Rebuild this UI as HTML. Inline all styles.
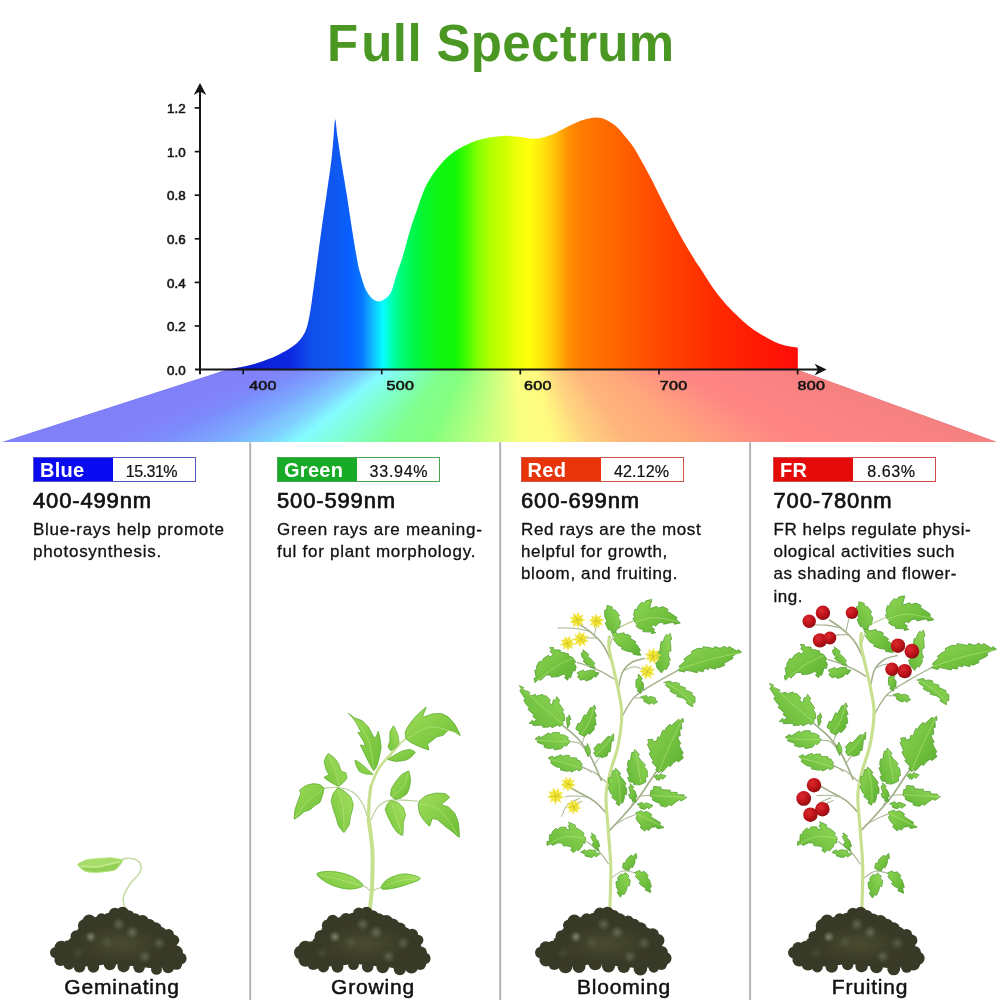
<!DOCTYPE html>
<html lang="en">
<head>
<meta charset="utf-8">
<title>Full Spectrum</title>
<style>
html,body{margin:0;padding:0;background:#fff;}
body{width:1000px;height:1000px;position:relative;overflow:hidden;font-family:"Liberation Sans",sans-serif;color:#111;}
#art{position:absolute;left:0;top:0;width:1000px;height:1000px;display:block;}
h1,.panel,.stage,#art{will-change:transform;}
h1{position:absolute;left:326.6px;top:14.5px;width:400px;margin:0;text-align:left;font-size:51px;line-height:58px;font-weight:bold;color:#4b9724;letter-spacing:.36px;white-space:nowrap;}
h1 span{letter-spacing:3.2px;}
.axl text{font-family:"Liberation Sans",sans-serif;font-size:13.4px;font-weight:normal;fill:#151515;stroke:#151515;stroke-width:.6px;letter-spacing:.25px;}
.panel{position:absolute;top:442px;width:250px;height:558px;}
.badge{position:absolute;top:15px;height:23px;width:161px;border:1px solid;box-sizing:content-box;}
.badge b{position:absolute;left:0;top:0;height:23px;width:79px;color:#fff;font-size:20px;line-height:25px;font-weight:bold;padding-left:6px;box-sizing:border-box;letter-spacing:.3px;}
.badge i{position:absolute;left:79px;top:0;width:82px;height:23px;font-style:normal;text-align:center;font-size:16.1px;line-height:26px;color:#111;letter-spacing:-.1px;-webkit-text-stroke:.2px #111;}
.rng{position:absolute;top:46px;margin:0;font-size:22px;line-height:26px;font-weight:normal;letter-spacing:.85px;-webkit-text-stroke:.7px #111;white-space:nowrap;}
.desc{position:absolute;top:76.6px;margin:0;font-size:17px;line-height:22.4px;letter-spacing:.72px;white-space:nowrap;-webkit-text-stroke:.3px #111;}
.stage{position:absolute;top:974px;margin:0;font-size:21px;line-height:26px;letter-spacing:.8px;-webkit-text-stroke:.5px #111;white-space:nowrap;transform:translateX(-50%);}
</style>
</head>
<body>
<svg id="art" viewBox="0 0 1000 1000" width="1000" height="1000">
<defs>
<linearGradient id="spec" gradientUnits="userSpaceOnUse" x1="225" y1="0" x2="797.8" y2="0"><stop offset="0.0000" stop-color="#0a18d0"/><stop offset="0.1135" stop-color="#0c28e0"/><stop offset="0.1519" stop-color="#1050ec"/><stop offset="0.1920" stop-color="#1058f0"/><stop offset="0.2182" stop-color="#0860ff"/><stop offset="0.2392" stop-color="#0878ff"/><stop offset="0.2566" stop-color="#10b8ff"/><stop offset="0.2758" stop-color="#08fcff"/><stop offset="0.2916" stop-color="#00ffb0"/><stop offset="0.3090" stop-color="#00fc74"/><stop offset="0.3265" stop-color="#00f850"/><stop offset="0.3474" stop-color="#08f62c"/><stop offset="0.3753" stop-color="#10f610"/><stop offset="0.4015" stop-color="#10f808"/><stop offset="0.4207" stop-color="#40fc00"/><stop offset="0.4417" stop-color="#84ff00"/><stop offset="0.4644" stop-color="#b4ff00"/><stop offset="0.4871" stop-color="#ccff00"/><stop offset="0.5098" stop-color="#f0ff08"/><stop offset="0.5325" stop-color="#ffff0c"/><stop offset="0.5552" stop-color="#ffe40c"/><stop offset="0.5779" stop-color="#ffbe08"/><stop offset="0.6006" stop-color="#ff8e04"/><stop offset="0.6233" stop-color="#ff7a00"/><stop offset="0.6686" stop-color="#ff6a00"/><stop offset="0.7367" stop-color="#ff5000"/><stop offset="0.8467" stop-color="#ff2c00"/><stop offset="1.0000" stop-color="#ff0c08"/></linearGradient>
<linearGradient id="fan" x1="0" y1="0" x2="1" y2="0"><stop offset="0.000" stop-color="#8080f8"/><stop offset="0.090" stop-color="#8282fa"/><stop offset="0.140" stop-color="#7c8cfc"/><stop offset="0.200" stop-color="#7ca8fe"/><stop offset="0.250" stop-color="#80d0ff"/><stop offset="0.283" stop-color="#84fcff"/><stop offset="0.325" stop-color="#80ffd0"/><stop offset="0.380" stop-color="#80ff8c"/><stop offset="0.415" stop-color="#84ff80"/><stop offset="0.465" stop-color="#c0ff80"/><stop offset="0.506" stop-color="#f8ff80"/><stop offset="0.540" stop-color="#fffa80"/><stop offset="0.572" stop-color="#ffd480"/><stop offset="0.615" stop-color="#ffb47c"/><stop offset="0.673" stop-color="#ffa87a"/><stop offset="0.720" stop-color="#ff9880"/><stop offset="0.780" stop-color="#ff8684"/><stop offset="0.900" stop-color="#fb8282"/><stop offset="1.000" stop-color="#f48080"/></linearGradient>

<radialGradient id="sh"><stop offset="0" stop-color="#9a9e88" stop-opacity=".8"/><stop offset=".5" stop-color="#80846a" stop-opacity=".5"/><stop offset="1" stop-color="#6a6e54" stop-opacity="0"/></radialGradient>
<radialGradient id="so"><stop offset="0" stop-color="#4c4e30" stop-opacity=".9"/><stop offset="1" stop-color="#45472c" stop-opacity="0"/></radialGradient>
<radialGradient id="tom" cx=".38" cy=".34" r=".75"><stop offset="0" stop-color="#da2a30"/><stop offset=".5" stop-color="#c0141a"/><stop offset="1" stop-color="#860a0e"/></radialGradient>
<linearGradient id="lg1" x1="0" y1="0" x2="1" y2="1"><stop offset="0" stop-color="#a0dc5a"/><stop offset="1" stop-color="#6cbf34"/></linearGradient>
<linearGradient id="lg2" x1="1" y1="0" x2="0" y2="1"><stop offset="0" stop-color="#a8e062"/><stop offset="1" stop-color="#74c43a"/></linearGradient>
<linearGradient id="lg3" x1="0" y1="0" x2="1" y2="1"><stop offset="0" stop-color="#8ed652"/><stop offset="1" stop-color="#5cb030"/></linearGradient>
<linearGradient id="lg4" x1="1" y1="0" x2="0" y2="1"><stop offset="0" stop-color="#94d958"/><stop offset="1" stop-color="#62b636"/></linearGradient>
<style>
.soil path,.soil circle{fill:#383a27}
.lf{fill:url(#lg1);stroke:#5fae30;stroke-width:.9;stroke-linejoin:round}
.lf2{fill:url(#lg2);stroke:#66b434;stroke-width:.9;stroke-linejoin:round}
.lf3{fill:url(#lg3);stroke:#4e9a2c;stroke-width:.8;stroke-linejoin:round}
.lf4{fill:url(#lg4);stroke:#54a030;stroke-width:.8;stroke-linejoin:round}
.vn{fill:none;stroke:#c2ea8c;stroke-linecap:round;opacity:.85}
.st{fill:none;stroke:#c6e08e;stroke-linecap:round;stroke-linejoin:round}
.pt{fill:none;stroke:#b9cf96;stroke-linecap:round;stroke-linejoin:round}
.pt2{fill:none;stroke:#a2b08a;stroke-linecap:round;stroke-linejoin:round}
.fl{fill:#f3e834;stroke:#eedd2a;stroke-width:.6;stroke-linejoin:round}
</style>
<g id="p3"><path class="pt2" stroke-width="1.4" d="M613.7 678.8C611.8 677.7 606.5 674.2 602.4 672.1C598.3 670 593.4 667.9 589.2 666.3C585 664.7 579.2 663.1 577.2 662.5"/><path class="pt2" stroke-width="1.3" d="M622.3 716C624.4 712.8 629.1 702.4 634.8 696.8C640.5 691.2 649.2 686.8 656.4 682.4C663.6 678 674.4 672.4 678 670.4"/><path class="pt2" stroke-width="1.7" d="M601.2 780.1C599.4 776.1 594.2 762.9 590.4 756.1C586.6 749.3 582.9 744.3 578.4 739.3C573.9 734.2 565.8 728.1 563.3 725.8"/><path class="pt2" stroke-width="1" d="M589.2 755.6C587.6 753.6 582.8 745.9 579.6 743.6C576.4 741.3 571.6 742 570 741.7"/><path class="pt2" stroke-width="1" d="M582 743.6C582.6 742 584.4 736.4 585.6 734C586.8 731.6 588.6 730 589.2 729.2"/><path class="pt2" stroke-width="1" d="M594 765.2C594.9 764 597.6 760 599.3 758C601 756 603.3 754 604.1 753.2"/><path class="pt2" stroke-width="1" d="M591.6 772.4C590.4 771.6 586.4 768.7 584.4 767.6C582.4 766.5 580.4 766 579.6 765.7"/><path class="pt2" stroke-width="1.5" d="M618.5 687.2C619.2 684.6 620.5 675.8 622.8 671.6C625.1 667.4 628.8 664.2 632.4 662C636 659.8 642.4 659 644.4 658.4"/><path class="pt2" stroke-width="1" d="M624 670.4C625.8 669.8 631.4 666.8 634.8 666.8C638.2 666.8 642.8 669.8 644.4 670.4"/><path class="pt" stroke-width="1.2" d="M608.9 650C610 646.8 612.1 635.4 615.6 630.8C619.1 626.2 626.8 624.1 630 622.4C633.2 620.7 634 621 634.8 620.7"/><path class="pt2" stroke-width="1" d="M644.4 690.8C643.8 690 641.6 687.4 640.8 686C640 684.6 639.8 683 639.6 682.4"/><path class="pt2" stroke-width="1" d="M634.8 698C635.9 698 639.9 697.8 641.5 698C643.1 698.2 643.9 699 644.4 699.2"/><path class="pt2" stroke-width="1" d="M663.6 682.4C664.4 682.6 666.8 683 668.4 683.6C670 684.2 672.4 685.6 673.2 686"/><path class="pt2" stroke-width="1.1" d="M656.4 780.1C657 779.2 658.8 776.7 660 774.8C661.2 772.9 663 769.8 663.6 768.8"/><path class="pt2" stroke-width="1.1" d="M606 782.1C604.1 780.5 598.5 775 594.5 772.5C590.5 770 584.1 768.1 582 767.2"/><path class="pt2" stroke-width="1.7" d="M609.8 830.1C612.1 827.7 618.3 821.3 623.3 815.7C628.2 810.1 634.5 803.3 639.6 796.5C644.7 789.7 650.6 779.8 654 774.9C657.4 770 659 768.5 660 767.2"/><path class="pt2" stroke-width="1" d="M613.7 825.3C615.6 824.2 621.6 820.6 625.2 818.8C628.8 817 633.6 815.4 635.3 814.7"/><path class="pt2" stroke-width="1" d="M639.6 796C641 795.9 646 795.6 648 795.5C650 795.4 651 795.5 651.6 795.5"/><path class="pt2" stroke-width="1" d="M631.2 805.6C631.8 804.4 634.4 800.4 634.8 798.4C635.2 796.4 633.8 794.4 633.6 793.6"/><path class="pt2" stroke-width="1.1" d="M608.4 863.7C606.9 861.7 602.9 855.4 599.3 851.7C595.7 848 588.9 843.3 586.8 841.6"/><path class="pt2" stroke-width="1" d="M611.3 878.1C613.2 876.9 618.9 871.8 622.8 870.9C626.7 870 632.8 872.5 634.8 872.8"/><path class="pt2" stroke-width="1" d="M625.2 870.9C625.8 870 627.8 867.3 628.8 865.6C629.8 863.9 630.8 861.6 631.2 860.8"/><path class="st" stroke-width="3.1" d="M609.8 910C610 903 611 881 610.8 868C610.6 855 609.2 844 608.4 832C607.6 820 605.7 806 606 796C606.3 786 608.3 780.3 610.3 772C612.3 763.7 616.1 755.5 618 746C619.9 736.5 621.8 724 621.8 714.8C621.9 705.6 619.8 698.4 618.5 690.8C617.1 683.2 615.3 676.4 613.7 669.2C612.1 662 609.6 653 608.9 647.6C608.2 642.2 609.3 638.6 609.4 636.8"/><path class="lf3" d="M651.8 599.6C652 599.7 650.6 604.5 650.5 604.8C650.5 605.1 649.7 608.6 649.9 608.6C650.1 608.7 656.6 606.3 656.9 606.3C657.1 606.3 657.9 608.1 658.1 608.1C658.3 608.1 662.6 606.7 662.9 606.7C663.2 606.7 667.9 609.1 668 609.3C668.2 609.4 667.2 611.1 667.3 611.2C667.4 611.4 670.4 613 670.7 613.2C671 613.4 676.8 617.4 677 617.6C677.2 617.9 676.2 619.5 676.3 619.7C676.4 619.9 680.5 622.8 680.4 623C680.4 623.1 674.6 624.3 674.4 624.3C674.1 624.2 673.8 622.3 673.6 622.3C673.4 622.3 669.7 622.9 669.4 623C669.1 623 663.9 624.3 663.7 624.3C663.5 624.2 663.1 622.3 663 622.3C662.8 622.3 659.2 622.8 659 623C658.7 623.1 655.5 626.2 655.3 626.3C655.1 626.3 654 624.8 653.9 624.8C653.7 624.8 651.2 626.7 651.2 626.8C651.2 627 654.6 629.1 654.7 629.3C654.8 629.4 653.5 630.8 653.5 630.9C653.5 631 655.8 632.6 655.8 632.7C655.7 632.8 651.5 633.7 651.4 633.6C651.2 633.6 651.1 631.7 651 631.6C650.9 631.6 648.2 632.1 648 632C647.7 632 643 631.6 642.8 631.5C642.7 631.4 643.1 629.5 642.9 629.4C642.8 629.3 639.7 628.9 639.5 628.8C639.3 628.7 636 626.1 635.9 626C635.9 625.8 637.2 624.5 637.2 624.4C637.2 624.3 635.1 622.5 634.9 622.3C634.8 622.1 633 618.4 632.9 618.2C632.9 618.1 634.8 617.5 634.8 617.4C634.8 617.2 633.6 614.8 633.6 614.5C633.7 614.2 634.9 609.4 635 609.2C635.1 609.1 636.9 609.7 637 609.6C637.1 609.5 638 606.3 638.2 606.1C638.3 605.8 641.6 602.2 641.8 602.1C641.9 602 643.2 603.4 643.4 603.4C643.5 603.3 645.7 601 646 600.8C646.3 600.7 651.7 599.4 651.8 599.6Z"/><path class="lf4" d="M607 605.4C607.1 605.3 612.2 606.9 612.4 607C612.5 607.1 611.9 608.9 612 609C612.1 609.2 615.3 610.2 615.6 610.4C615.9 610.6 619.5 615.6 619.6 615.8C619.6 616 618.1 617.2 618.1 617.4C618.2 617.6 620.6 620.9 620.6 621.2C620.7 621.5 619.2 627.6 619.1 627.8C618.9 628 617 627.6 616.9 627.8C616.8 627.9 615.8 632.1 615.6 632.2C615.4 632.4 611.4 632.2 611.2 632.2C611.1 632.1 611.4 630.2 611.3 630.1C611.2 630.1 608.6 630.1 608.4 629.8C608.2 629.6 605.2 623.1 605.2 622.8C605.1 622.5 606.8 621.6 606.8 621.3C606.8 621.1 604.9 616.8 604.8 616.4C604.7 616 604.6 610.3 604.7 610.1C604.8 609.9 606.7 609.8 606.8 609.7C606.9 609.5 606.8 605.4 607 605.4Z"/><path class="lf3" d="M611.8 633.2C611.8 633 616.1 632.2 616.2 632.2C616.4 632.3 616.4 634.2 616.6 634.2C616.9 634.2 623.9 632.8 624.1 632.8C624.4 632.9 624.4 634.8 624.5 634.8C624.7 634.9 627.4 634.3 627.6 634.4C627.8 634.5 631.1 636.4 631.2 636.5C631.3 636.6 629.9 638 630.1 638.2C630.3 638.4 635.9 641.7 636 641.9C636.2 642.1 634.9 643.5 634.9 643.6C634.9 643.7 637 645 637.2 645.2C637.4 645.4 640.5 650.1 640.5 650.3C640.6 650.5 639 651.5 639 651.7C639 651.8 641.2 655.2 641 655.3C640.9 655.4 633.6 654.5 633.3 654.4C633 654.3 633.1 652.4 632.9 652.3C632.7 652.2 628 651.5 627.6 651.4C627.2 651.3 621.8 649.2 621.6 649.1C621.4 649 622.1 647.2 622 647C621.9 646.9 618.3 645.5 618 645.2C617.7 644.9 613.5 639.5 613.4 639.2C613.3 638.9 614.8 637.7 614.7 637.5C614.7 637.3 611.7 633.4 611.8 633.2Z"/><path class="lf4" d="M670.1 633.3C670.2 633.5 671.7 639.1 671.7 639.4C671.7 639.6 669.8 640.1 669.8 640.2C669.8 640.4 670.7 644 670.7 644.4C670.7 644.8 671 650.8 670.9 651.1C670.8 651.3 668.9 651.4 668.8 651.5C668.8 651.7 668.7 655.8 668.7 656.1C668.8 656.4 670.4 660.1 670.4 660.3C670.4 660.4 668.5 660.9 668.5 661C668.5 661.1 669.5 663.6 669.4 663.9C669.3 664.2 666.3 669.6 666.1 669.8C665.9 669.9 664.2 669 664.1 669.1C663.9 669.2 661.8 673.1 661.6 673C661.4 673 657.2 668.1 657 667.8C656.9 667.5 655.7 663 655.7 662.8C655.8 662.6 657.7 662.3 657.7 662.2C657.7 662 657.1 659.1 657 658.7C657 658.4 657.5 652.2 657.6 651.9C657.7 651.7 659.6 651.8 659.7 651.6C659.8 651.5 660.2 647.3 660.3 647C660.3 646.7 661.1 641.7 661.2 641.5C661.3 641.3 663.2 641.7 663.3 641.6C663.4 641.5 664.1 638.1 664.2 637.9C664.3 637.7 666.5 634.4 666.6 634.4C666.8 634.3 668.1 635.6 668.2 635.6C668.3 635.6 669.9 633.2 670.1 633.3Z"/><path class="lf3" d="M741.6 652.2C741.6 652.1 738.2 649.6 738.1 649.5C737.9 649.5 737 651.2 736.9 651.2C736.8 651.2 734.7 649.7 734.4 649.6C734.1 649.4 729.3 646.6 729.1 646.6C728.9 646.5 727.9 648.2 727.8 648.2C727.6 648.2 724.3 646.3 724 646.4C723.8 646.4 720.4 648.3 720.1 648.3C719.8 648.3 714.7 646.6 714.5 646.6C714.2 646.7 713.8 648.5 713.6 648.5C713.5 648.6 710.1 647.7 709.7 647.6C709.4 647.6 703.4 646.7 703.2 646.7C702.9 646.7 702.7 648.6 702.5 648.7C702.3 648.8 698.4 648.2 698 648.3C697.6 648.4 691.7 651.4 691.5 651.5C691.3 651.7 692.1 653.5 691.9 653.7C691.8 653.8 687.9 655.9 687.6 656.1C687.3 656.3 683.9 659.1 683.8 659.3C683.8 659.5 685.3 660.7 685.1 660.9C685 661.1 679.1 666.2 679 666.4C678.8 666.7 680.3 667.9 680.2 668C680.2 668.2 677.7 670.3 677.9 670.4C678 670.5 684.3 672.1 684.6 672.1C684.8 672 685.4 670.2 685.5 670.2C685.7 670.1 689.8 671 690.2 671C690.6 671.1 697 672.7 697.3 672.7C697.6 672.7 698.1 670.8 698.3 670.8C698.5 670.8 703 671.8 703.2 671.7C703.4 671.6 704.3 668.5 704.5 668.5C704.7 668.4 708.3 669.6 708.5 669.6C708.6 669.5 708.7 667.6 708.9 667.6C709.1 667.6 715.4 669.3 715.6 669.3C715.9 669.2 715.9 667.3 716.1 667.3C716.2 667.2 718.5 667.9 718.8 667.8C719.1 667.7 724.4 665.4 724.6 665.3C724.7 665.1 724 663.4 724.1 663.2C724.2 663.1 727.6 661.5 727.9 661.3C728.2 661.1 732.9 658.5 733.1 658.3C733.2 658.2 732.2 656.5 732.3 656.4C732.4 656.3 735.4 654.3 735.7 654.2C736 654 741.5 652.4 741.6 652.2Z"/><path class="lf4" d="M664.6 682.2C664.7 682.1 670.4 681 670.7 681C670.9 681 671.2 682.9 671.4 683C671.6 683 675.3 682.4 675.6 682.4C675.9 682.4 679.5 683.5 679.6 683.6C679.8 683.7 678.7 685.4 678.9 685.5C679.1 685.7 685.4 687.7 685.6 687.8C685.8 688 684.9 689.6 684.9 689.7C685 689.8 687.3 690.7 687.6 690.8C687.9 690.9 692.4 692.9 692.5 693.1C692.6 693.2 691.7 694.9 691.8 695C691.9 695.1 694.9 696.5 695 696.8C695.1 697.1 695.1 702.4 695 702.6C694.9 702.8 693 702.8 692.9 702.9C692.8 703 692.9 706.9 692.6 706.9C692.4 706.9 686.5 703.2 686.4 703C686.2 702.8 687.1 701.1 687 700.9C686.9 700.7 683.1 698.1 682.8 698C682.5 697.9 677.1 696.6 676.9 696.5C676.7 696.4 677.3 694.6 677.1 694.4C677 694.3 673.4 693.3 673.2 693.2C673 693.1 669.9 691.1 669.8 691C669.7 690.8 671.2 689.6 671 689.4C670.9 689.2 665.6 685.6 665.5 685.4C665.3 685.3 666.7 684 666.7 683.9C666.7 683.7 664.4 682.3 664.6 682.2Z"/><path class="lf3" d="M638.4 674C638.5 674 642.2 678.5 642.3 678.7C642.4 678.9 640.9 680.1 640.9 680.3C641 680.4 643.4 683.3 643.4 683.6C643.5 683.9 643.3 689.2 643.2 689.3C643.2 689.5 641.3 689.4 641.2 689.5C641.1 689.7 640.9 693.4 640.8 693.4C640.7 693.5 637.2 690.9 637.1 690.8C637 690.7 638.4 689.3 638.3 689.2C638.3 689.1 636.1 687.5 636 687.2C635.9 686.9 636 680 636 679.7C636.1 679.4 638 679.3 638.1 679.1C638.2 678.9 638.3 674 638.4 674Z"/><path class="lf4" d="M640.6 696.8C640.6 696.7 646.4 695.4 646.6 695.4C646.8 695.4 647.3 697.3 647.4 697.3C647.6 697.3 651.3 696.5 651.6 696.6C651.9 696.6 655.7 698.2 655.8 698.3C656 698.4 655 700.1 655.1 700.2C655.1 700.3 657.9 701.5 657.8 701.6C657.8 701.7 653.7 704.3 653.5 704.3C653.3 704.3 652.4 702.6 652.3 702.6C652.2 702.6 649.5 704.3 649.2 704.2C648.9 704.2 643.8 701.3 643.6 701.1C643.4 701 644.4 699.3 644.3 699.1C644.2 699 640.5 696.9 640.6 696.8Z"/><path class="lf3" d="M549.6 647.6C549.7 647.5 553.5 647.6 553.7 647.7C553.8 647.8 553.2 649.6 553.5 649.7C553.7 649.8 560.1 650 560.3 650.1C560.5 650.2 560 652 560.1 652.1C560.2 652.2 562.5 652.3 562.8 652.4C563.1 652.5 568.5 653.8 568.7 653.9C568.9 654 568.3 655.8 568.5 656C568.6 656.1 572.2 657 572.4 657.2C572.6 657.4 575.7 661.8 575.7 662C575.8 662.2 574.2 663.2 574.2 663.4C574.2 663.6 576.2 666.5 576.2 666.8C576.3 667.1 575.1 671.1 575 671.2C574.9 671.3 573.2 670.4 573 670.6C572.9 670.8 570.8 677.7 570.6 677.9C570.5 678.1 568.8 677.3 568.7 677.3C568.6 677.4 567.7 680.2 567.6 680.2C567.5 680.2 564.5 677.6 564.5 677.5C564.4 677.3 565.9 676.2 565.9 676C565.9 675.9 564.3 674 564 674C563.7 674 558.4 676.5 558 676.6C557.6 676.7 551.5 677.2 551.2 677.1C551 677.1 550.8 675.2 550.6 675.1C550.5 675 546.3 675 546 675.2C545.7 675.4 540.9 680.2 540.7 680.4C540.4 680.5 539 679.2 538.8 679.3C538.6 679.3 535.1 682.7 535 682.6C534.8 682.6 534 678.3 534.1 678.2C534.1 678 536 678.1 536.1 677.8C536.1 677.5 534.8 670.5 534.8 670.2C534.8 670 536.7 670 536.8 669.9C536.8 669.8 536.3 667.1 536.4 666.8C536.5 666.5 539.2 661.5 539.4 661.3C539.5 661.2 541.2 662.1 541.4 662C541.5 661.9 543.4 658.6 543.6 658.4C543.8 658.2 548.2 655.3 548.4 655.2C548.6 655.1 549.6 656.8 549.8 656.8C549.9 656.8 553.2 655 553.2 654.8C553.2 654.6 550.1 651.6 550.1 651.4C550 651.3 551.6 650.2 551.5 650C551.5 649.9 549.5 647.7 549.6 647.6Z"/><path class="lf4" d="M583 649.8C583.1 649.8 588.5 654.1 588.7 654.3C588.9 654.5 587.7 656.1 587.8 656.3C587.9 656.5 591.4 659.3 591.6 659.6C591.8 659.9 594.8 663.6 594.9 663.8C595 664 593.4 665.1 593.4 665.2C593.4 665.4 595.5 668.2 595.4 668.2C595.3 668.3 590.3 667.4 590.2 667.3C590 667.2 590.5 665.4 590.3 665.3C590.2 665.2 587 664.5 586.8 664.4C586.6 664.3 583.2 661.3 583.1 661.2C583 661 584.4 659.7 584.4 659.6C584.3 659.4 582.1 657.4 582 657.2C581.9 657 581.2 653.1 581.2 652.9C581.3 652.8 583.2 652.8 583.2 652.7C583.3 652.6 582.8 649.7 583 649.8Z"/><path class="lf3" d="M577 672.8C577.1 672.6 583.2 670.1 583.4 670.1C583.7 670 584.5 671.8 584.7 671.8C584.9 671.8 588.9 670.2 589.2 670.2C589.5 670.1 594.8 670.3 594.9 670.4C595.1 670.4 595 672.3 595.1 672.4C595.3 672.5 599 672.6 599 672.8C599.1 673 596 677.1 595.8 677.2C595.6 677.3 594.1 676.1 594 676.2C593.9 676.2 591.9 678.9 591.6 679C591.3 679.2 586 681 585.8 681C585.6 681 585 679.2 584.8 679.1C584.7 679.1 581 680.3 580.8 680.2C580.6 680.2 577.6 676.9 577.5 676.7C577.5 676.6 579 675.5 579 675.3C579 675.2 576.8 673 577 672.8Z"/><path class="lf4" d="M519.4 685.8C519.4 685.7 523.4 687.3 523.5 687.5C523.7 687.6 522.5 689.2 522.7 689.3C523 689.5 529.5 692.2 529.7 692.4C529.9 692.5 528.8 694.1 528.9 694.2C528.9 694.3 531.4 695.6 531.6 695.6C531.8 695.6 535.4 694.3 535.6 694.3C535.7 694.3 535.8 696.2 536.1 696.2C536.3 696.2 542.5 694.3 542.8 694.3C543 694.3 543.2 696.2 543.3 696.2C543.4 696.3 545.8 695.5 546 695.6C546.2 695.7 550.3 700 550.4 700.2C550.5 700.4 549.1 701.7 549.2 701.9C549.2 702.1 551.9 705.3 552 705.2C552.1 705.1 553.4 700 553.5 699.8C553.6 699.6 555.4 700.3 555.5 700.2C555.7 700.1 556.6 696.5 556.8 696.6C557 696.6 560 700.9 560 701.1C560.1 701.3 558.4 702.2 558.5 702.5C558.6 702.8 563.6 709.9 563.8 710.2C563.9 710.5 562.2 711.4 562.2 711.6C562.2 711.7 564.2 714.5 564.2 714.8C564.3 715.1 564.9 720.2 564.9 720.4C564.8 720.6 562.9 720.7 562.9 720.8C562.8 721 563.2 724.4 563 724.6C562.9 724.8 559.4 726.6 559.2 726.6C559.1 726.6 558.6 724.7 558.4 724.7C558.2 724.8 552.1 727.7 551.9 727.8C551.7 727.8 551.2 726 551.1 725.9C551 725.9 548.7 727 548.4 727C548.1 727.1 543 727.4 542.8 727.3C542.6 727.3 542.8 725.3 542.5 725.3C542.2 725.2 533.4 725.6 533.1 725.5C532.8 725.5 532.9 723.6 532.8 723.5C532.6 723.4 529 723.6 529 723.4C528.9 723.3 532.3 720.2 532.5 720.2C532.6 720.1 533.7 721.7 533.9 721.6C534 721.6 536.4 719.8 536.4 719.6C536.4 719.4 532.8 716.5 532.7 716.4C532.6 716.2 534.1 715 534 714.8C533.8 714.5 528 709.4 527.9 709.2C527.7 708.9 529.2 707.7 529.2 707.6C529.1 707.4 527 705.4 526.8 705.2C526.6 705 523.6 700.5 523.5 700.3C523.5 700.1 525.2 699.3 525.1 698.9C525 698.6 519.9 690.9 519.8 690.6C519.7 690.3 521.4 689.4 521.4 689.2C521.4 689.1 519.3 685.8 519.4 685.8Z"/><path class="lf3" d="M594.2 705C594.4 705 595.9 708.7 595.9 708.9C595.9 709 593.9 709.3 594 709.6C594 709.8 596.4 716 596.5 716.2C596.5 716.4 594.6 716.8 594.6 716.9C594.5 717 595.4 719.3 595.4 719.6C595.5 719.9 596.1 724.8 596.1 725C596 725.2 594.1 725.3 594.1 725.5C594 725.6 594.4 728.9 594.2 729.2C594.1 729.5 589.8 734.2 589.6 734.3C589.4 734.5 587.9 733.2 587.7 733.3C587.6 733.4 584.7 736.6 584.4 736.6C584.1 736.6 579 733.7 578.8 733.5C578.6 733.4 579.6 731.7 579.5 731.5C579.4 731.4 575.8 729.5 575.8 729.2C575.7 728.9 578 723.4 578.1 723.2C578.2 723 580 723.7 580.2 723.6C580.3 723.5 581.9 719.9 582 719.6C582.1 719.3 584.2 714.9 584.4 714.7C584.5 714.6 586.1 715.7 586.3 715.5C586.5 715.2 590.3 707.7 590.5 707.4C590.7 707.2 592.3 708.2 592.4 708.2C592.5 708.1 594.1 704.9 594.2 705Z"/><path class="lf4" d="M535 739C535 738.9 539.3 736.1 539.5 736C539.7 736 540.5 737.8 540.8 737.6C541.1 737.5 548.4 732.9 548.7 732.8C549 732.7 549.8 734.4 550 734.4C550.1 734.4 552.9 732.6 553.2 732.6C553.5 732.5 559.2 732.5 559.4 732.6C559.6 732.7 559.6 734.6 559.8 734.7C559.9 734.8 563.7 734.9 564 735C564.3 735.1 568.2 737.3 568.4 737.5C568.5 737.6 567.3 739.2 567.4 739.3C567.5 739.4 570.3 741 570.2 741.2C570.2 741.4 566.5 746.1 566.3 746.3C566.1 746.4 564.6 745.2 564.5 745.3C564.3 745.4 561.9 748.5 561.6 748.6C561.3 748.8 554.6 750 554.3 749.9C554.1 749.9 553.6 748 553.4 748C553.2 747.9 548.7 748.7 548.4 748.6C548.1 748.6 544.1 747.2 543.9 747.1C543.8 746.9 544.8 745.3 544.6 745.1C544.4 745 537.5 742.4 537.2 742.3C537 742.1 538 740.4 537.9 740.3C537.8 740.2 534.9 739.2 535 739Z"/><path class="lf3" d="M593.8 748.6C593.9 748.4 598.2 743.6 598.4 743.5C598.6 743.4 600.1 744.6 600.3 744.5C600.4 744.5 603.3 741.5 603.6 741.2C603.9 740.9 608.2 736.2 608.4 736.1C608.6 735.9 610.1 737.2 610.2 737.1C610.4 737 613.6 733.6 613.7 733.8C613.8 733.9 613.6 740.5 613.5 740.8C613.4 741 611.5 741 611.4 741.2C611.3 741.4 611.1 745.6 611 746C611 746.4 610.2 751.7 610.1 751.9C610 752.1 608.2 751.7 608.1 751.9C608 752 607.4 755.6 607.2 755.8C607 756 601.6 757.8 601.4 757.8C601.2 757.8 600.6 756 600.4 755.9C600.3 755.9 596.6 757.1 596.4 757C596.2 756.9 593.7 753 593.7 752.8C593.7 752.6 595.4 751.8 595.4 751.6C595.4 751.5 593.7 748.9 593.8 748.6Z"/><path class="lf4" d="M548.2 758C548.2 757.8 552.5 756 552.6 756C552.8 756 553.3 757.9 553.5 757.8C553.8 757.8 560.9 754.7 561.2 754.7C561.5 754.6 561.9 756.5 562.1 756.5C562.2 756.5 564.9 755.4 565.2 755.4C565.5 755.3 569.4 755.4 569.6 755.5C569.7 755.6 569.2 757.5 569.4 757.5C569.7 757.6 576.5 758 576.8 758C577 758.1 576.6 760 576.6 760.1C576.7 760.1 579.4 760.2 579.6 760.4C579.8 760.6 582.3 764.6 582.3 764.8C582.3 765 580.6 765.8 580.6 765.9C580.6 766.1 582.3 768.9 582.2 769C582.2 769.2 578.6 771 578.4 771C578.3 771 577.8 769.1 577.6 769.1C577.4 769.2 571.3 772.1 571.1 772.2C570.9 772.2 570.4 770.4 570.3 770.3C570.2 770.3 567.9 771.5 567.6 771.4C567.3 771.4 560.8 770.1 560.5 770C560.3 769.9 560.6 768 560.4 767.9C560.2 767.7 555.9 766.8 555.6 766.6C555.3 766.5 550.7 762.9 550.5 762.7C550.4 762.5 551.6 761 551.5 760.9C551.4 760.7 548.1 758.2 548.2 758Z"/><path class="lf3" d="M683 718.2C683.1 718.2 683.5 722.1 683.4 722.2C683.4 722.4 681.5 722 681.4 722.3C681.4 722.5 681.9 728.9 681.8 729.1C681.8 729.3 679.9 728.9 679.8 729.2C679.8 729.4 680.3 735.8 680.2 736C680.2 736.2 678.3 735.9 678.2 736C678.1 736.1 678.2 738.5 678.2 738.8C678.3 739.1 680.8 743.6 680.8 743.8C680.8 744 679.1 744.8 679.1 744.9C679.1 745.1 680.5 748.1 680.6 748.4C680.8 748.7 683.3 753.1 683.3 753.3C683.4 753.5 681.7 754.4 681.7 754.5C681.6 754.7 683.4 757.8 683.3 758C683.2 758.2 678.5 761.8 678.3 761.9C678.1 762 676.9 760.5 676.7 760.5C676.6 760.6 673.4 762.8 673.2 763C673 763.2 670.1 766.7 670 766.8C669.8 766.9 668.6 765.4 668.4 765.6C668.1 765.7 663 771.6 662.8 771.7C662.5 771.9 661.3 770.4 661.2 770.5C661 770.5 659 772.9 658.8 772.9C658.6 772.8 655.6 769.5 655.6 769.4C655.5 769.2 657.2 768.2 657.1 768C657 767.7 652 762.2 651.9 761.9C651.7 761.7 653.4 760.7 653.4 760.5C653.3 760.4 651.5 758.2 651.4 758C651.2 757.8 649.1 753.4 649.1 753.2C649.1 753 650.9 752.5 650.9 752.2C650.8 751.9 647.4 744.4 647.3 744.1C647.2 743.8 649.1 743.2 649.1 743.1C649.1 743 647.6 739.9 647.8 739.8C647.9 739.6 652.6 739.2 652.7 739.3C652.9 739.3 652.9 741.2 653 741.3C653.1 741.4 656.2 741.3 656.4 741.2C656.6 741.1 657.9 736.9 658 736.8C658.1 736.7 659.7 737.7 659.9 737.5C660.1 737.3 662.6 730.4 662.8 730.2C662.9 730 664.6 731 664.7 730.9C664.8 730.8 665.8 728.2 666 728C666.2 727.8 669.8 724.3 670 724.2C670.2 724.1 671.3 725.7 671.6 725.5C671.9 725.3 678.3 719.4 678.6 719.2C678.8 719.1 680 720.6 680.1 720.6C680.3 720.6 682.9 718.1 683 718.2Z"/><path class="lf4" d="M634.8 749.4C635 749.4 639.3 754.6 639.4 754.8C639.5 755 638 756.3 638.1 756.5C638.2 756.7 640.8 760.1 641 760.4C641.3 760.7 645.3 764.8 645.4 765C645.5 765.2 644.2 766.5 644.2 766.7C644.3 766.9 646.9 769.7 647 770C647.2 770.3 647.7 776.5 647.7 776.7C647.6 777 645.7 777.2 645.6 777.4C645.6 777.6 646 781.7 645.8 782C645.6 782.3 640 784.8 639.6 784.9C639.2 785 633.9 784.6 633.7 784.5C633.5 784.5 633.7 782.6 633.5 782.5C633.4 782.4 629.7 782.2 629.5 782C629.3 781.8 627.6 777.7 627.6 777.5C627.6 777.4 629.5 777 629.5 776.7C629.5 776.4 626.6 769.4 626.6 769.1C626.5 768.9 628.4 768.4 628.4 768.3C628.4 768.2 627.4 765.5 627.4 765.2C627.4 764.9 628.1 760.4 628.2 760.3C628.3 760.1 630.1 760.8 630.3 760.6C630.4 760.3 631.8 752.6 631.9 752.4C632.1 752.1 633.9 752.7 634 752.6C634.1 752.5 634.6 749.3 634.8 749.4Z"/><path class="lf3" d="M566.6 721.5C566.6 721.2 566.7 717.5 566.7 717.4C566.8 717.3 568.7 717.7 568.7 717.6C568.8 717.5 569 714.7 569 714.8C569.1 714.9 570.9 719.2 570.9 719.4C570.9 719.6 569 720.1 569 720.2C569 720.4 570 723.2 570 723.4C570 723.7 567.7 728.1 567.6 728C567.5 727.9 566.7 721.9 566.6 721.5Z"/><path class="lf4" d="M587.3 743.6C587.4 743.7 590.1 749.3 590.2 749.6C590.3 749.9 590.4 753.8 590.4 753.9C590.3 754 588.4 753.8 588.3 753.9C588.3 754 588.3 756.9 588.2 756.8C588.1 756.7 585.5 751.1 585.4 750.8C585.3 750.5 585.1 746.6 585.2 746.5C585.2 746.4 587.1 746.6 587.2 746.5C587.2 746.4 587.2 743.5 587.3 743.6Z"/><path class="lf3" d="M615.6 768.2C615.8 768.2 620.5 773.3 620.6 773.5C620.8 773.8 619.4 775.2 619.5 775.4C619.6 775.5 622.6 778.9 622.8 779.2C623 779.5 626.1 783.8 626.1 784C626.2 784.2 624.6 785.2 624.6 785.4C624.6 785.6 626.6 788.5 626.6 788.8C626.7 789.1 626.7 794.2 626.6 794.4C626.5 794.6 624.6 794.5 624.5 794.6C624.4 794.7 624.3 798.1 624.2 798.4C624.2 798.7 622.7 803.1 622.5 803.2C622.4 803.4 620.7 802.6 620.6 802.6C620.5 802.7 619.4 805.8 619.2 805.8C619 805.9 615.9 803.3 615.8 803.2C615.7 803.1 617.3 801.9 617.1 801.7C617 801.5 611.8 797.3 611.6 797.1C611.5 796.9 613 795.7 612.9 795.6C612.9 795.4 611 793.9 610.8 793.6C610.6 793.3 608.1 787.5 608.1 787.3C608 787 609.8 786.2 609.8 786C609.8 785.8 608.2 781.9 608.2 781.6C608.1 781.3 609 777.4 609.1 777.3C609.2 777.1 610.9 778 611 777.7C611.2 777.5 612.7 770.8 612.8 770.6C612.9 770.3 614.7 771.1 614.8 771C614.8 770.9 615.4 768.1 615.6 768.2Z"/><path class="lf4" d="M653.8 786.4C654 786.3 660.6 787 660.9 787.1C661.1 787.2 661 789.2 661.2 789.3C661.3 789.4 665.7 790 666 790C666.3 790 670.1 790 670.3 790.1C670.4 790.2 669.9 792 670.1 792.1C670.3 792.2 677 792.4 677.2 792.5C677.4 792.6 676.8 794.4 677.1 794.5C677.3 794.6 683.9 794.8 684.2 794.9C684.4 795 683.9 796.8 684 796.9C684.1 797 687 797.1 686.9 797.2C686.8 797.3 681.4 801.1 681.2 801.2C681 801.2 679.8 799.7 679.6 799.7C679.4 799.8 675.9 802 675.6 802.2C675.3 802.5 671.1 806 670.9 806C670.7 806.1 669.5 804.6 669.4 804.6C669.2 804.7 666.3 807 666 807C665.7 807.1 660.3 805.7 660.1 805.6C659.9 805.4 660.5 803.6 660.3 803.5C660.2 803.4 656.7 802.4 656.4 802.2C656.1 802.1 652.2 799.9 652 799.7C651.9 799.6 653.1 798 653 797.9C652.9 797.8 650.2 796.3 650.2 796C650.1 795.7 650.8 790.5 650.9 790.3C651 790.1 652.9 790.4 653 790.3C653.1 790.1 653.5 786.5 653.8 786.4Z"/><path class="lf3" d="M630 783.8C630.1 783.8 633.8 787 633.8 787.1C633.9 787.3 632.5 788.6 632.6 788.7C632.6 788.9 634.9 790.9 635 791.2C635.2 791.5 637 796.9 637 797.1C637 797.4 635.2 797.9 635.1 798.1C635.1 798.3 636.3 802.1 636.2 802.2C636.1 802.3 632.2 801.3 632.1 801.2C632 801.1 632.8 799.4 632.7 799.3C632.6 799.2 630.1 798.6 630 798.4C629.9 798.2 628.7 794.5 628.7 794.4C628.7 794.2 630.6 794.1 630.6 793.9C630.6 793.6 628.7 787.3 628.7 787.1C628.7 786.8 630.6 786.7 630.6 786.5C630.7 786.4 629.9 783.7 630 783.8Z"/><path class="lf4" d="M637 804.4C637 804.3 642 802.3 642.2 802.3C642.4 802.3 643 804.1 643.2 804.2C643.3 804.2 646.5 802.9 646.8 803C647.1 803 653 805.4 653 805.6C653.1 805.8 649 808.8 648.8 808.9C648.6 809 647.6 807.4 647.4 807.4C647.3 807.4 644.7 809.4 644.4 809.4C644.1 809.5 639.7 807.9 639.6 807.7C639.4 807.6 640.2 805.9 640.2 805.8C640.1 805.7 636.9 804.5 637 804.4Z"/><path class="lf3" d="M635.8 812.8C635.9 812.6 641.4 810.7 641.7 810.7C641.9 810.7 642.5 812.5 642.7 812.6C642.9 812.6 646.5 811.3 646.8 811.4C647.1 811.4 651.6 814.4 651.7 814.5C651.8 814.7 650.7 816.3 650.8 816.4C650.9 816.6 653.7 818.6 654 818.8C654.3 819 660.2 822.4 660.4 822.6C660.6 822.8 659.7 824.5 659.8 824.7C659.9 824.8 664.2 827.3 664.1 827.4C664 827.6 657.5 828.8 657.2 828.7C657 828.7 656.5 826.8 656.3 826.8C656.2 826.7 651.9 827.3 651.6 827.4C651.3 827.6 648.4 830.5 648.2 830.6C648.1 830.6 647 829.1 646.8 829.1C646.7 829.1 644.6 831.1 644.4 831C644.2 831 640.1 827.2 640 827C639.9 826.8 641.3 825.5 641.2 825.3C641.2 825.2 638.6 822.7 638.4 822.4C638.2 822.1 635.7 817.7 635.7 817.5C635.7 817.3 637.4 816.4 637.4 816.3C637.4 816.1 635.6 813 635.8 812.8Z"/><path class="lf4" d="M547 845.4C546.8 845.4 547.1 841.4 547.1 841.3C547.2 841.2 549 841.7 549.1 841.5C549.2 841.3 549.6 834.8 549.6 834.6C549.7 834.3 551.6 834.9 551.7 834.8C551.7 834.7 551.9 832.2 552 832C552.1 831.8 555.8 828.3 556 828.2C556.2 828.2 557.4 829.6 557.5 829.6C557.7 829.6 560.1 827.3 560.4 827.2C560.7 827.1 565.8 827.2 566 827.3C566.2 827.3 566.1 829.2 566.2 829.3C566.3 829.4 569.9 829.7 570 829.6C570.1 829.5 567.9 825.9 567.9 825.8C567.9 825.6 569.7 825 569.7 824.9C569.8 824.7 568.4 822.1 568.6 822.2C568.7 822.2 575.1 825 575.4 825.2C575.6 825.3 574.9 827.2 575 827.3C575.2 827.5 579.3 829.4 579.6 829.6C579.9 829.8 584 833.3 584.1 833.4C584.2 833.6 582.9 835 582.9 835.2C583 835.3 585.8 837.7 585.8 838C585.9 838.3 585 843.1 584.9 843.3C584.8 843.4 583 843 582.9 843.1C582.8 843.2 582.2 846.4 582 846.6C581.8 846.9 578.3 850.9 578.1 851C577.9 851.1 576.6 849.8 576.4 849.8C576.3 849.9 573.8 852.6 573.6 852.6C573.4 852.6 570.5 850 570.5 849.9C570.4 849.7 571.9 848.6 571.9 848.4C571.9 848.3 570.3 846.5 570 846.4C569.7 846.3 563.3 845.8 563 845.7C562.8 845.6 562.9 843.6 562.7 843.5C562.6 843.4 558.4 842.7 558 842.8C557.6 842.9 552.5 845.5 552.2 845.5C552 845.5 551.2 843.8 551 843.8C550.8 843.8 547.1 845.5 547 845.4Z"/><path class="lf3" d="M591.4 833C591.5 833 595.8 836 595.9 836.2C596 836.4 594.8 837.9 594.9 838C595 838.1 597.7 840.1 597.8 840.4C598 840.7 599.8 846.1 599.8 846.3C599.8 846.6 598 847.1 597.9 847.3C597.9 847.5 599.2 851.4 599 851.4C598.9 851.4 594.2 847.9 594 847.6C593.8 847.3 592 844 592 843.8C592 843.6 593.9 843.2 593.8 842.9C593.8 842.7 590.7 836.7 590.7 836.5C590.6 836.2 592.5 835.7 592.5 835.6C592.5 835.5 591.2 832.9 591.4 833Z"/><path class="lf4" d="M580.6 852.4C580.6 852.3 584.7 849.7 584.9 849.7C585.1 849.7 586 851.4 586.1 851.4C586.2 851.4 588.9 849.8 589.2 849.8C589.5 849.7 595.5 850.5 595.7 850.6C595.9 850.7 595.7 852.7 595.8 852.8C596 852.9 600.2 853.5 600.2 853.6C600.2 853.7 596.2 856.8 596 856.9C595.8 857 594.8 855.4 594.6 855.4C594.5 855.4 591.9 857.4 591.6 857.4C591.3 857.5 585.2 856 585 855.9C584.8 855.7 585.2 853.8 585 853.7C584.9 853.6 580.6 852.5 580.6 852.4Z"/><path class="lf3" d="M636.2 853.4C636.4 853.4 636.9 858.1 636.9 858.3C636.8 858.5 634.9 858.5 634.9 858.6C634.8 858.8 635.1 861.7 635 862C635 862.3 632.8 867.3 632.7 867.5C632.5 867.7 630.8 866.9 630.6 867C630.5 867.1 629.1 870.6 628.8 870.6C628.5 870.7 622.7 868.3 622.6 868C622.4 867.7 623.4 863 623.5 862.8C623.6 862.7 625.4 863.2 625.5 863.1C625.6 863 626.2 859.9 626.4 859.6C626.6 859.3 630.9 855.2 631.1 855.1C631.3 855 632.7 856.3 632.8 856.3C633 856.2 636.1 853.3 636.2 853.4Z"/><path class="lf4" d="M617.8 877.6C617.9 877.3 621 873.8 621.1 873.8C621.3 873.7 622.6 875.1 622.7 875C622.9 875 625 872.5 625.2 872.6C625.4 872.6 629 875.8 629 875.9C629.1 876.1 627.7 877.4 627.8 877.5C627.8 877.7 630.2 879.7 630.2 880C630.3 880.3 629.6 885.5 629.5 885.7C629.4 885.9 627.5 885.6 627.4 885.7C627.3 885.9 626.7 889.3 626.6 889.6C626.5 889.9 624.4 894.5 624.2 894.6C624.1 894.8 622.4 893.9 622.3 894C622.1 894 620.6 897.3 620.4 897.3C620.2 897.2 617.1 892.4 617.1 892.2C617 892 618.6 891 618.6 890.8C618.6 890.6 616.6 887.5 616.6 887.2C616.5 886.9 615.9 882 615.9 881.8C616 881.6 617.9 881.5 617.9 881.3C618 881.2 617.7 877.9 617.8 877.6Z"/><path class="lf3" d="M634.8 872.6C634.9 872.4 639.7 870.6 639.9 870.6C640.1 870.6 640.7 872.4 640.8 872.5C641 872.5 644.2 871.3 644.4 871.4C644.6 871.5 648.2 875.3 648.3 875.5C648.4 875.6 646.9 876.9 647 877C647 877.2 649.3 879.7 649.4 880C649.6 880.3 651.5 886.5 651.5 886.7C651.5 887 649.7 887.6 649.7 887.8C649.7 888 651 892.4 650.9 892.5C650.7 892.6 645.4 890.1 645.2 890C645.1 889.8 645.9 888.1 645.8 887.9C645.6 887.8 642.2 886.2 642 886C641.8 885.8 638.9 883.1 638.9 882.9C638.8 882.8 640.5 881.8 640.3 881.5C640.2 881.3 635.4 876.4 635.3 876.2C635.2 876 636.8 874.9 636.7 874.8C636.7 874.7 634.7 872.7 634.8 872.6Z"/><path class="lf4" d="M654 776.8C654 776.6 657.4 774.3 657.5 774.2C657.7 774.2 658.5 775.9 658.7 775.9C658.8 775.9 661 774.4 661.2 774.4C661.4 774.4 665.9 775.7 666 775.8C666.1 776 662.9 779.4 662.7 779.4C662.6 779.5 661.3 778.1 661.2 778.1C661.1 778.1 659 780.4 658.8 780.4C658.6 780.4 654 777 654 776.8Z"/><path class="vn" stroke-width="0.6" d="M739.2 652.9C734.2 654 719.2 656.9 709.2 659.6C699.2 662.3 684.2 667.6 679.2 669.2"/><path class="vn" stroke-width="0.6" d="M520.8 687.2C524.6 690.6 536.6 701.5 543.6 707.6C550.6 713.7 559.6 721.2 562.8 723.9"/><path class="vn" stroke-width="0.6" d="M681.6 720.8C679.4 725.4 672.1 740 668.4 748.4C664.7 756.8 660.8 767.4 659.3 771.2"/><path class="vn" stroke-width="0.6" d="M536.9 680.7C540 678.4 549.6 670.5 555.6 666.8C561.6 663.1 570 659.8 572.9 658.4"/><path class="vn" stroke-width="0.6" d="M678 621.7C674 621 661.1 617.5 654 617.6C646.9 617.7 638.4 621.6 635.3 622.4"/><path class="vn" stroke-width="0.6" d="M536.4 740C539.2 740.2 547.8 741 553.2 741.2C558.6 741.4 566.2 741.2 568.8 741.2"/><path class="vn" stroke-width="0.6" d="M549.6 759.2C552.2 759.9 560 761.8 565.2 763.3C570.4 764.8 578.4 767.3 581 768.1"/><path class="vn" stroke-width="0.6" d="M635.8 751.3C636.2 754 637.6 762.5 638.4 767.6C639.2 772.7 640.4 779.6 640.8 782"/><path class="vn" stroke-width="0.6" d="M594 707.1C593.2 709.6 591.2 717.5 589.2 722C587.2 726.5 583.2 732 582 734"/><path class="vn" stroke-width="0.6" d="M692.9 704.7C690.8 702.6 684.9 695.6 680.4 692C675.9 688.4 668.4 684.6 666 683.1"/><path class="vn" stroke-width="0.6" d="M612.7 735.2C611.4 737 607.7 742.6 604.8 746C601.9 749.4 597 754 595.4 755.6"/><path class="vn" stroke-width="0.6" d="M685.2 797.4C682.4 797.3 674 796.8 668.4 796.5C662.8 796.2 654.4 795.7 651.6 795.5"/><path class="vn" stroke-width="0.6" d="M548.4 844C551.2 842.8 559.2 837.8 565.2 836.8C571.2 835.8 581.2 837.8 584.4 838"/><path class="vn" stroke-width="0.6" d="M616.1 770.6C616.6 773.2 618.8 781 619.4 786.4C620.1 791.8 619.8 800.4 619.9 803.2"/><path class="vn" stroke-width="0.6" d="M662.4 826.7C660.2 825.6 653.5 822.1 649.2 820C644.9 817.9 638.8 815 636.7 814"/></g>
</defs>
<clipPath id="fc"><path d="M225 370L798.5 370L997 442L1.5 442Z"/></clipPath>
<g id="fanrows" clip-path="url(#fc)"><path d="M225 370L798.5 370L997 442L1.5 442Z" fill="#8080f8"/><rect x="223.5" y="370" width="576.4" height="1.25" fill="url(#fan)"/><rect x="220.6" y="371" width="582.3" height="1.25" fill="url(#fan)"/><rect x="217.7" y="372" width="588.2" height="1.25" fill="url(#fan)"/><rect x="214.8" y="373" width="594" height="1.25" fill="url(#fan)"/><rect x="211.9" y="374" width="599.9" height="1.25" fill="url(#fan)"/><rect x="209" y="375" width="605.8" height="1.25" fill="url(#fan)"/><rect x="206.1" y="376" width="611.6" height="1.25" fill="url(#fan)"/><rect x="203.2" y="377" width="617.5" height="1.25" fill="url(#fan)"/><rect x="200.3" y="378" width="623.4" height="1.25" fill="url(#fan)"/><rect x="197.4" y="379" width="629.2" height="1.25" fill="url(#fan)"/><rect x="194.5" y="380" width="635.1" height="1.25" fill="url(#fan)"/><rect x="191.6" y="381" width="641" height="1.25" fill="url(#fan)"/><rect x="188.7" y="382" width="646.9" height="1.25" fill="url(#fan)"/><rect x="185.8" y="383" width="652.7" height="1.25" fill="url(#fan)"/><rect x="182.9" y="384" width="658.6" height="1.25" fill="url(#fan)"/><rect x="180" y="385" width="664.5" height="1.25" fill="url(#fan)"/><rect x="177.1" y="386" width="670.3" height="1.25" fill="url(#fan)"/><rect x="174.2" y="387" width="676.2" height="1.25" fill="url(#fan)"/><rect x="171.3" y="388" width="682.1" height="1.25" fill="url(#fan)"/><rect x="168.4" y="389" width="687.9" height="1.25" fill="url(#fan)"/><rect x="165.5" y="390" width="693.8" height="1.25" fill="url(#fan)"/><rect x="162.6" y="391" width="699.7" height="1.25" fill="url(#fan)"/><rect x="159.7" y="392" width="705.5" height="1.25" fill="url(#fan)"/><rect x="156.8" y="393" width="711.4" height="1.25" fill="url(#fan)"/><rect x="153.9" y="394" width="717.3" height="1.25" fill="url(#fan)"/><rect x="151" y="395" width="723.1" height="1.25" fill="url(#fan)"/><rect x="148.1" y="396" width="729" height="1.25" fill="url(#fan)"/><rect x="145.2" y="397" width="734.9" height="1.25" fill="url(#fan)"/><rect x="142.3" y="398" width="740.7" height="1.25" fill="url(#fan)"/><rect x="139.4" y="399" width="746.6" height="1.25" fill="url(#fan)"/><rect x="136.5" y="400" width="752.5" height="1.25" fill="url(#fan)"/><rect x="133.6" y="401" width="758.3" height="1.25" fill="url(#fan)"/><rect x="130.7" y="402" width="764.2" height="1.25" fill="url(#fan)"/><rect x="127.8" y="403" width="770.1" height="1.25" fill="url(#fan)"/><rect x="124.9" y="404" width="775.9" height="1.25" fill="url(#fan)"/><rect x="122" y="405" width="781.8" height="1.25" fill="url(#fan)"/><rect x="119" y="406" width="787.7" height="1.25" fill="url(#fan)"/><rect x="116.1" y="407" width="793.6" height="1.25" fill="url(#fan)"/><rect x="113.2" y="408" width="799.4" height="1.25" fill="url(#fan)"/><rect x="110.3" y="409" width="805.3" height="1.25" fill="url(#fan)"/><rect x="107.4" y="410" width="811.2" height="1.25" fill="url(#fan)"/><rect x="104.5" y="411" width="817" height="1.25" fill="url(#fan)"/><rect x="101.6" y="412" width="822.9" height="1.25" fill="url(#fan)"/><rect x="98.7" y="413" width="828.8" height="1.25" fill="url(#fan)"/><rect x="95.8" y="414" width="834.6" height="1.25" fill="url(#fan)"/><rect x="92.9" y="415" width="840.5" height="1.25" fill="url(#fan)"/><rect x="90" y="416" width="846.4" height="1.25" fill="url(#fan)"/><rect x="87.1" y="417" width="852.2" height="1.25" fill="url(#fan)"/><rect x="84.2" y="418" width="858.1" height="1.25" fill="url(#fan)"/><rect x="81.3" y="419" width="864" height="1.25" fill="url(#fan)"/><rect x="78.4" y="420" width="869.8" height="1.25" fill="url(#fan)"/><rect x="75.5" y="421" width="875.7" height="1.25" fill="url(#fan)"/><rect x="72.6" y="422" width="881.6" height="1.25" fill="url(#fan)"/><rect x="69.7" y="423" width="887.4" height="1.25" fill="url(#fan)"/><rect x="66.8" y="424" width="893.3" height="1.25" fill="url(#fan)"/><rect x="63.9" y="425" width="899.2" height="1.25" fill="url(#fan)"/><rect x="61" y="426" width="905" height="1.25" fill="url(#fan)"/><rect x="58.1" y="427" width="910.9" height="1.25" fill="url(#fan)"/><rect x="55.2" y="428" width="916.8" height="1.25" fill="url(#fan)"/><rect x="52.3" y="429" width="922.6" height="1.25" fill="url(#fan)"/><rect x="49.4" y="430" width="928.5" height="1.25" fill="url(#fan)"/><rect x="46.5" y="431" width="934.4" height="1.25" fill="url(#fan)"/><rect x="43.6" y="432" width="940.3" height="1.25" fill="url(#fan)"/><rect x="40.7" y="433" width="946.1" height="1.25" fill="url(#fan)"/><rect x="37.8" y="434" width="952" height="1.25" fill="url(#fan)"/><rect x="34.9" y="435" width="957.9" height="1.25" fill="url(#fan)"/><rect x="32" y="436" width="963.7" height="1.25" fill="url(#fan)"/><rect x="29.1" y="437" width="969.6" height="1.25" fill="url(#fan)"/><rect x="26.2" y="438" width="975.5" height="1.25" fill="url(#fan)"/><rect x="23.3" y="439" width="981.3" height="1.25" fill="url(#fan)"/><rect x="20.4" y="440" width="987.2" height="1.25" fill="url(#fan)"/><rect x="17.5" y="441" width="993.1" height="1.25" fill="url(#fan)"/></g>
<path d="M225.3 369.6C227.8 369.2 235.1 368.2 240 367.2C244.9 366.2 250 365.1 255 363.7C260 362.3 265.8 360.2 270 358.6C274.2 357 276.7 355.7 280 354C283.3 352.3 287 350.3 290 348.3C293 346.3 295.7 344.4 298 342C300.3 339.6 302.3 337.2 304 334C305.7 330.8 306.8 328 308 323C309.2 318 310 313.5 311.4 304C312.8 294.5 314.9 278.7 316.6 266C318.3 253.3 320.1 239.8 321.7 228C323.3 216.2 324.9 206.3 326.5 195C328.1 183.7 330.2 169.8 331.4 160C332.6 150.2 333 142.8 333.6 136C334.2 129.2 334.6 119.2 335.2 119.2C335.8 119.2 336.4 129.2 337.4 136C338.4 142.8 339.4 150.2 341 160C342.6 169.8 345 183.7 346.8 195C348.6 206.3 350.1 217.2 351.8 228C353.5 238.8 355.9 252.7 357.2 260C358.5 267.3 358.8 268 359.9 272C360.9 276 362.4 280.8 363.5 284C364.6 287.2 365.4 289 366.5 291C367.6 293 368.6 294.6 369.8 296C371 297.4 372.1 298.7 373.5 299.6C374.9 300.5 376.8 301.4 378.5 301.4C380.2 301.4 381.9 300.7 383.5 299.8C385.1 298.9 387.1 297.5 388.4 296C389.7 294.5 390.6 293 391.5 291C392.4 289 392.8 287.2 393.8 284C394.8 280.8 396.1 276 397.4 272C398.7 268 400.3 264.2 401.6 260C402.9 255.8 403.9 252.3 405.4 247C406.9 241.7 408.8 234.3 410.8 228C412.8 221.7 414.8 216 417.3 209C419.8 202 422.4 192.9 426 185.8C429.6 178.7 434.7 171.7 439 166.3C443.3 160.9 447.7 156.8 452 153.3C456.3 149.8 460.7 147.7 465 145.5C469.3 143.3 473.7 141.7 478 140.3C482.3 138.9 486.7 137.9 491 137.2C495.3 136.5 499.7 136 504 135.9C508.3 135.8 512.7 136 517 136.4C521.3 136.8 526.1 138.1 530 138.4C533.9 138.7 536.9 138.8 540.4 138.2C543.9 137.6 547.3 136.5 550.8 135.1C554.3 133.7 557.7 131.6 561.2 129.9C564.7 128.2 568.1 126.3 571.6 124.7C575.1 123.1 578.9 121.4 582 120.3C585.1 119.2 587.5 118.7 590 118.2C592.5 117.8 594.4 117.4 597 117.6C599.6 117.8 602.3 118.1 605.4 119.5C608.5 120.9 612.3 123 615.8 126C619.3 129 623 133.8 626.2 137.7C629.4 141.6 631 143 635 149.5C639 156 645 167 650 176.5C655 186 660 196.8 665 206.5C670 216.2 675 226 680 235C685 244 691.7 255 695 260.5C698.3 266 697.2 263.5 700 267.8C702.8 272.1 708 280.7 712 286.4C716 292.1 720 297.3 724 302C728 306.7 732 310.7 736 314.6C740 318.5 744 322.2 748 325.4C752 328.6 756 331.3 760 333.8C764 336.3 768 338.5 772 340.4C776 342.3 779.7 344 784 345.2C788.3 346.4 795.5 347.2 797.8 347.6L797.8 369.6Z" fill="url(#spec)"/>
<g id="axes"><path d="M200 374.3V90" stroke="#151515" stroke-width="2" fill="none"/><path d="M200 83l-6.3 12 6.3-3.4 6.3 3.4z" fill="#151515"/><path d="M195 369.6H820" stroke="#151515" stroke-width="2" fill="none"/><path d="M826.6 369.6l-12-5.9 3.4 5.9-3.4 5.9z" fill="#151515"/><path d="M194.7 107.9H200" stroke="#151515" stroke-width="1.7"/><path d="M194.7 151.6H200" stroke="#151515" stroke-width="1.7"/><path d="M194.7 195.2H200" stroke="#151515" stroke-width="1.7"/><path d="M194.7 238.8H200" stroke="#151515" stroke-width="1.7"/><path d="M194.7 282.4H200" stroke="#151515" stroke-width="1.7"/><path d="M194.7 326H200" stroke="#151515" stroke-width="1.7"/><path d="M243.2 369.6V374.4" stroke="#151515" stroke-width="1.7"/><path d="M381.7 369.6V374.4" stroke="#151515" stroke-width="1.7"/><path d="M520.3 369.6V374.4" stroke="#151515" stroke-width="1.7"/><path d="M659 369.6V374.4" stroke="#151515" stroke-width="1.7"/><path d="M797.6 369.6V374.4" stroke="#151515" stroke-width="1.7"/></g>
<g class="axl"><text transform="translate(185.6 113.1) scale(1.0 1)" text-anchor="end" style="letter-spacing:0">1.2</text><text transform="translate(185.6 156.8) scale(1.0 1)" text-anchor="end" style="letter-spacing:0">1.0</text><text transform="translate(185.6 200.4) scale(1.0 1)" text-anchor="end" style="letter-spacing:0">0.8</text><text transform="translate(185.6 244) scale(1.0 1)" text-anchor="end" style="letter-spacing:0">0.6</text><text transform="translate(185.6 287.6) scale(1.0 1)" text-anchor="end" style="letter-spacing:0">0.4</text><text transform="translate(185.6 331.2) scale(1.0 1)" text-anchor="end" style="letter-spacing:0">0.2</text><text transform="translate(185.6 374.8) scale(1.0 1)" text-anchor="end" style="letter-spacing:0">0.0</text><text transform="translate(263 390.2) scale(1.2 1)" text-anchor="middle">400</text><text transform="translate(400.3 390.2) scale(1.2 1)" text-anchor="middle">500</text><text transform="translate(537.8 390.2) scale(1.2 1)" text-anchor="middle">600</text><text transform="translate(673.7 390.2) scale(1.2 1)" text-anchor="middle">700</text><text transform="translate(811.3 390.2) scale(1.2 1)" text-anchor="middle">800</text></g>
<g id="dividers" stroke="#b0b0b0" stroke-width="1.9"><path d="M250.2 442.3V1000"/><path d="M500.15 442.3V1000"/><path d="M750.1 442.3V1000"/></g>
<g id="plant1"><g transform="translate(30,830) scale(.2)"><path d="M480 405C477.7 394.2 462.7 362.5 466 340C469.3 317.5 486.3 290.8 500 270C513.7 249.2 539.3 231.7 548 215C556.7 198.3 556.7 181.7 552 170C547.3 158.3 532.3 149.7 520 145C507.7 140.3 488.8 140.8 478 142C467.2 143.2 458.8 150.3 455 152" fill="none" stroke="#c6dca6" stroke-width="8" stroke-linecap="round"/><path d="M238 172C239.4 166.7 275.1 151 290 148C304.9 145 384.1 138.6 400 139C415.9 139.4 461.7 146.4 464 152C466.3 157.6 437.3 194.4 425 200C412.7 205.6 343.8 212.4 330 213C316.2 213.6 283.4 209.8 275 206C266.6 202.2 236.6 177.3 238 172Z" fill="#a6dc6a" stroke="#b4e27e" stroke-width="4" stroke-linejoin="round"/><path d="M262 188C268.2 186.7 322.2 192 340 190C357.8 188 431.5 167.2 440 168C448.5 168.8 436 193.8 425 198C414 202.2 344.7 209.5 330 210C315.3 210.5 284.8 205.2 278 203C271.2 200.8 255.8 189.3 262 188Z" fill="#8ccc52" opacity=".75"/><path class="vn" stroke-width="9" d="M258 180C271.7 180.5 308.8 186.7 340 183C371.2 179.3 427.5 162.2 445 158"/></g><g class="soil"><path d="M56.8 952.5L61.3 947.6L68.5 946.8L74.8 942.9L77.3 936.7L83.3 933L84.6 925.9L89.3 921.3L97 923.6L102.2 919.9L109.1 919.5L115 914.5L122.5 913.6L128.5 916.9L134.5 920L142.3 921.9L148.6 925.4L155.2 929L160.3 933.5L167.3 934.9L172.6 940.4L170.7 947.6L176.1 952.5L179.8 958.2L175.4 963.8L167.5 966.8L155.4 968.7L138.3 966.5L123.4 965.6L110.2 963.5L94.2 966.2L80.5 966.4L70 963.6L61.2 959.8Z"/><circle cx="55.6" cy="952.6" r="5.6"/><circle cx="61.3" cy="947.6" r="6.8"/><circle cx="68.3" cy="946.8" r="6.6"/><circle cx="73.8" cy="942.8" r="5.8"/><circle cx="76.7" cy="936.5" r="6.2"/><circle cx="82.7" cy="932.8" r="6.1"/><circle cx="84.3" cy="925.7" r="6.4"/><circle cx="89.2" cy="921.3" r="6.7"/><circle cx="96.1" cy="922.7" r="5.6"/><circle cx="101.5" cy="918.7" r="5.4"/><circle cx="109.1" cy="919.5" r="6.7"/><circle cx="114.9" cy="913.8" r="6.1"/><circle cx="122.6" cy="913.4" r="6.6"/><circle cx="128.9" cy="915.6" r="5.4"/><circle cx="134.8" cy="919.4" r="6.1"/><circle cx="142.4" cy="921.7" r="6.6"/><circle cx="149.5" cy="924.8" r="5.8"/><circle cx="155.1" cy="929.1" r="6.9"/><circle cx="160.2" cy="933.6" r="6.8"/><circle cx="168.6" cy="934.5" r="5.4"/><circle cx="173.9" cy="940.2" r="5.4"/><circle cx="171.2" cy="947.6" r="6.3"/><circle cx="176" cy="952.5" r="6.9"/><circle cx="180.6" cy="958.4" r="6"/><circle cx="176.5" cy="964.1" r="5.7"/><circle cx="168.2" cy="967.1" r="6.1"/><circle cx="156.5" cy="969.4" r="5.4"/><circle cx="139.1" cy="967.2" r="5.8"/><circle cx="123.6" cy="966.3" r="6.1"/><circle cx="109.9" cy="964.1" r="6.2"/><circle cx="93.4" cy="966.9" r="5.8"/><circle cx="79.5" cy="966.8" r="5.8"/><circle cx="69" cy="963.9" r="5.8"/><circle cx="60.5" cy="959.9" r="6.1"/></g><ellipse cx="121" cy="944" rx="46" ry="20" fill="url(#so)"/><circle cx="90.8" cy="936.8" r="6" fill="url(#sh)" opacity="0.95"/><circle cx="118.7" cy="924.2" r="7" fill="url(#sh)" opacity="0.55"/><circle cx="132.2" cy="932.3" r="7" fill="url(#sh)" opacity="0.6"/><circle cx="159.2" cy="943.1" r="7" fill="url(#sh)" opacity="0.45"/><circle cx="144.8" cy="956.6" r="7" fill="url(#sh)" opacity="0.5"/><circle cx="107" cy="942.2" r="7" fill="url(#sh)" opacity="0.25"/><circle cx="78.2" cy="953" r="7" fill="url(#sh)" opacity="0.2"/></g>
<g id="plant2"><path class="pt" stroke-width="1.1" d="M367 815.2C366.2 813.1 364.3 806.4 362 802.6C359.7 798.8 356.9 794.7 353 792.2C349.1 789.6 343.4 788.1 338.6 787.5C333.8 786.8 326.6 788.1 324.2 788.2"/><path class="pt" stroke-width="1.1" d="M371.4 819.2C372.5 817.1 375 809.7 378.2 806.6C381.4 803.4 384.1 801 390.8 800.1C397.5 799.2 413.6 801 418.2 801.2"/><path class="pt" stroke-width="1.1" d="M370.1 891.1C369.5 890.5 367.6 888.2 366.2 887.2C364.8 886.3 362.4 885.7 361.6 885.4"/><path class="pt" stroke-width="1.1" d="M372.4 891.1C373.1 890.8 374.9 889.7 376.6 889.1C378.2 888.4 381.3 887.5 382.3 887.2"/><path class="st" stroke-width="1.6" d="M390.8 754C392 752.5 395.4 747.5 398 745C400.6 742.5 404.8 739.8 406.1 738.7"/><path class="st" stroke-width="2.6" d="M370.8 786.6C372.1 783.5 375.2 773.9 378.9 768.2C382.5 762.4 389.2 756.1 392.6 752.1C396.1 748 398.4 745.4 399.5 744"/><path class="st" stroke-width="3.3" d="M368.5 818.7C368.6 815.7 368.8 805.7 369.2 800.3C369.6 795 370.5 788.9 370.8 786.6"/><path class="st" stroke-width="4" d="M369.7 910.7C370 906.9 371.5 897.7 372 887.7C372.4 877.7 373 862.4 372.4 850.9C371.8 839.4 369.2 824.1 368.5 818.7"/><path class="lf" d="M348 713C348 713 354.1 717.6 354.8 718C355.5 718.4 361.3 720.2 362 720.7C362.7 721.2 367.8 726.3 368.3 727C368.8 727.7 371.6 733.3 371.9 733.8C372.2 734.4 374.4 738.1 374.6 738.2C374.8 738.2 376.6 735.6 376.8 735.3C376.9 734.9 378 731.1 378.2 731.3C378.4 731.5 379.9 737.9 380 738.7C380.1 739.5 381.1 745.9 381.1 746.8C381.1 747.7 379.8 754.9 379.6 755.8C379.5 756.7 377.6 764.1 377.3 764.8C377 765.5 374.1 770.8 373.7 770.7C373.3 770.6 369.6 763.8 369.2 763C368.8 762.2 365.1 754.9 364.7 754C364.3 753.1 360.3 745.4 360.4 745C360.4 744.6 365.5 746.4 365.6 746.1C365.7 745.8 362.4 739.4 362 738.7C361.6 738 357.9 732.7 357.9 732.4C357.8 732.1 361.3 733.1 361.3 732.8C361.3 732.4 357.9 725.9 357.5 725.2C357.1 724.5 353.5 718.6 353 718C352.5 717.4 347.9 713 348 713Z"/><path class="lf2" d="M355 760.1C355.2 760 359.6 762.6 360.2 763C360.8 763.4 365.9 767.8 366.5 768.4C367.1 769 373 774.1 373 774.3C372.9 774.6 366.3 774.1 365.6 774C364.9 773.8 359.8 771.7 359.3 771.3C358.8 770.9 356.5 766.3 356.2 765.7C356 765.1 354.8 760.3 355 760.1Z"/><path class="lf" d="M406.1 738.7C405.8 738.2 405.1 733.1 405.2 732.4C405.3 731.7 408.3 726 408.8 725.2C409.3 724.4 415.1 717.1 416 716.2C416.9 715.3 425.7 707.2 426.1 707C426.5 706.8 424.3 712.1 424.1 712.6C423.9 713.1 422.4 717.2 422.8 717.3C423.2 717.4 431.3 714.2 432.2 714C433.1 713.9 440.4 713.3 441.2 713.5C442 713.7 447.7 716.6 448.4 717.1C449.1 717.6 454.1 723.4 454.7 724.3C455.3 725.2 460.3 734.9 460.3 735.3C460.2 735.6 454.4 731.8 453.8 731.5C453.2 731.2 448.9 730.1 448.4 730.2C447.9 730.4 443.6 734.9 443 735.3C442.4 735.6 437.2 736.6 436.7 736.9C436.2 737.2 432.6 740.1 432.2 740.5C431.8 740.9 427.9 743.6 427.7 744.1C427.5 744.6 429 749.7 428.8 749.9C428.5 750 422.9 747.9 422.3 747.7C421.7 747.5 416.6 745.3 416 745C415.4 744.7 411.1 742.6 410.6 742.3C410.1 742 406.4 739.2 406.1 738.7Z"/><path class="lf2" d="M393.5 725.9C393.9 726 397.4 733.4 397.6 734.2C397.9 735 399 741.7 398.9 742.3C398.8 742.9 396.6 746.4 396.2 746.8C395.8 747.2 391.2 750.6 390.8 750.6C390.4 750.6 388.1 747.3 388.1 746.8C388.1 746.3 389.8 741.2 389.9 740.5C390 739.8 389.7 733.1 389.9 732.4C390.1 731.7 393.1 725.8 393.5 725.9Z"/><path class="lf" d="M387.9 759.4C387.8 759.1 392.8 756.2 393.5 755.8C394.2 755.4 400.8 751.6 401.6 751.3C402.4 751 409 749.5 409.7 749.5C410.4 749.5 415.2 751.8 415.3 752.2C415.3 752.6 411.1 757.2 410.6 757.6C410.1 758 405.9 760.1 405.2 760.3C404.5 760.5 397.1 761.4 396.2 761.4C395.3 761.3 388.1 759.7 387.9 759.4Z"/><path class="lf2" d="M328.2 753.5C328.7 753.3 334.5 758 335 758.5C335.5 759 338.3 763.3 338.6 763.9C338.9 764.5 340.9 770.6 341.3 771.1C341.7 771.6 345.5 772.5 345.8 772.9C346.1 773.3 347 777.8 346.9 778.3C346.7 778.8 343.5 782.4 343.1 782.8C342.7 783.2 339.1 786.2 338.6 786.2C338.1 786.3 333.7 784 333.2 783.7C332.7 783.4 329.2 781.3 328.7 781C328.2 780.7 324 777.7 324 777.4C324 777.1 328.6 775.1 328.7 774.7C328.8 774.3 326.2 770 326 769.3C325.8 768.6 324.1 762 324.2 761.2C324.3 760.4 327.6 753.6 328.2 753.5Z"/><path class="lf" d="M294.3 819C294.1 818.7 294.9 810.7 295 809.8C295.2 808.9 297.8 801.6 298.1 800.8C298.4 800 300.7 794.1 300.8 793.6C300.9 793.1 299.5 790.4 299.7 790C300 789.6 305.5 785.8 306.2 785.5C306.9 785.2 312.7 783.7 313.4 783.7C314.1 783.7 319.2 784.4 319.7 784.6C320.2 784.8 323.9 787.7 324 788.2C324.2 788.7 322.6 794.7 322.4 795.4C322.2 796.1 320.1 802.1 319.7 802.6C319.3 803.1 315.7 804.9 315.2 805.3C314.7 805.7 310.3 809.5 309.8 809.8C309.3 810.1 304.9 811.3 304.4 811.6C303.9 811.9 299.5 815.7 299 816.1C298.5 816.5 294.5 819.3 294.3 819Z"/><path class="lf2" d="M337.7 788C338.2 787.9 343.4 790.5 344 790.9C344.6 791.3 349.8 795.6 350.3 796.3C350.8 797 353.1 803.7 353.2 804.4C353.3 805.1 352.2 810.1 352.1 810.7C352 811.3 350.4 816.3 350.3 817C350.2 817.7 349.7 823.4 349.4 824.2C349.1 825 344.5 832.4 344 832.5C343.5 832.6 339 826.8 338.6 826C338.2 825.2 336.2 817.9 335.9 817C335.6 816.1 333.4 809.7 333.2 808.9C333 808.1 331.2 801.6 331.2 800.8C331.2 800 332.9 794.2 333.2 793.6C333.5 793 337.2 788.2 337.7 788Z"/><path class="lf" d="M408.8 770.9C409.2 771.1 410.4 778.4 410.4 779.2C410.5 780 409.9 785.7 409.7 786.4C409.5 787.1 407.4 793 407 793.6C406.6 794.2 401.3 797.8 400.7 798.1C400.1 798.4 395.8 799.3 395.3 799.2C394.8 799 390.8 795.9 390.6 795.4C390.4 794.9 391.4 788.9 391.7 788.2C392 787.5 395.7 781.7 396.2 781C396.7 780.3 401 775.2 401.6 774.7C402.2 774.2 408.4 770.7 408.8 770.9Z"/><path class="lf2" d="M390.8 800.6C391.3 800.5 397.4 802.2 398 802.6C398.6 803 403 807.4 403.4 808C403.8 808.6 405.4 814.5 405.4 815.2C405.4 815.9 403.5 821.4 403.4 822.4C403.3 823.4 403 834.9 402.7 835.4C402.4 835.9 397.6 832.8 397.1 832.3C396.6 831.8 393.1 826.8 392.6 826C392.2 825.2 388.5 817.8 388.1 817C387.7 816.2 385.3 810.4 385.2 809.8C385.2 809.2 386.9 804.9 387.2 804.4C387.5 803.9 390.3 800.7 390.8 800.6Z"/><path class="lf" d="M418.2 804.4C418.2 803.7 420.1 800.4 420.5 799.9C420.9 799.4 426 795.7 426.8 795.4C427.6 795.1 434.9 793.3 435.8 793.2C436.7 793.1 444.1 793.4 444.8 793.6C445.5 793.8 449.5 796.8 449.5 797.2C449.5 797.6 445.2 801.3 444.8 801.7C444.4 802.1 441 804.1 441.2 804.4C441.4 804.7 447.7 806.6 448.4 807.1C449.1 807.6 454.2 812.6 454.7 813.4C455.2 814.2 458.1 821.2 458.3 822.4C458.5 823.6 459.7 836.7 459.4 837.2C459.1 837.6 452.7 832 452 831.4C451.3 830.8 445.5 826.6 444.8 826C444.1 825.4 438.2 820.1 437.6 819.7C437 819.3 432.6 818.5 432.2 818.8C431.8 819.1 429.9 826.1 429.5 826.2C429.1 826.3 424.6 821.2 424.1 820.6C423.6 820 419.9 814.2 419.6 813.4C419.3 812.6 418.1 805.1 418.2 804.4Z"/><path class="lf2" d="M316.8 873.9C317.2 871.8 327.1 871.2 332.9 871.6C338.6 872 346.3 873.9 351.3 876.2C356.2 878.5 363.1 883.3 362.8 885.4C362.4 887.5 354.3 889.2 349 889.1C343.6 888.9 335.9 887 330.6 884.5C325.2 882 316.4 876.1 316.8 873.9Z"/><path class="lf2" d="M381.1 887.7C381.1 886 384.2 881.3 388 879C391.9 876.7 398.8 874 404.1 873.9C409.5 873.8 420.2 876.6 420.2 878.5C420.2 880.4 409.5 883.6 404.1 885.4C398.8 887.2 391.9 888.7 388 889.1C384.2 889.5 381.1 889.4 381.1 887.7Z"/><path class="vn" stroke-width="0.6" d="M350.3 716.2C353.1 719.8 363.5 729.1 367.4 737.8C371.3 746.5 372.6 763.3 373.7 768.4"/><path class="vn" stroke-width="0.6" d="M457.4 733.3C452.9 732.2 438.8 726.1 430.4 727C422 727.9 410.9 736.8 407 738.7"/><path class="vn" stroke-width="0.6" d="M295.4 817C297.5 814.3 303.4 805.4 308 800.8C312.6 796.1 320.8 791 323.3 789.1"/><path class="vn" stroke-width="0.6" d="M344 830.5C343.9 826.8 344.1 814.9 343.1 808C342.1 801.1 339.1 792.2 338.2 789.1"/><path class="vn" stroke-width="0.6" d="M401.6 833.2C400.7 830.5 397.9 822.2 396.2 817C394.5 811.8 392 804.2 391.2 801.7"/><path class="vn" stroke-width="0.6" d="M457.8 835C454.7 830.8 445.9 815 439.4 809.8C432.9 804.6 422.3 805 418.9 804"/><path class="vn" stroke-width="0.6" d="M328.7 754.9C329.8 757.5 333.3 765.2 335 770.2C336.7 775.2 338.3 782.2 339 784.6"/><path class="vn" stroke-width="0.6" d="M408.3 772.9C407.4 775.1 406 782.5 403.4 786.4C400.8 790.3 394.4 794.6 392.6 796.3"/><path class="vn" stroke-width="0.6" d="M320.2 875.1C323.5 875.8 333.1 877.9 339.8 879.7C346.5 881.4 357 884.4 360.5 885.4"/><path class="vn" stroke-width="0.6" d="M417.9 878.5C414.9 878.9 405.4 879.3 399.5 880.8C393.7 882.3 385.7 886.2 383 887.2"/><g class="soil"><path d="M300.8 952.5L305.3 947.6L312.5 946.8L318.8 942.9L321.3 936.7L327.3 933L328.6 925.9L333.3 921.3L341 923.6L346.2 919.9L353.1 919.5L359 914.5L366.5 913.6L372.5 916.9L378.5 920L386.3 921.9L392.6 925.4L399.2 929L404.3 933.5L411.3 934.9L416.6 940.4L414.7 947.6L420.1 952.5L423.8 958.2L419.4 963.8L411.5 966.8L399.4 968.7L382.3 966.5L367.4 965.6L354.2 963.5L338.2 966.2L324.5 966.4L314 963.6L305.2 959.8Z"/><circle cx="300.9" cy="952.5" r="6.9"/><circle cx="305.4" cy="947.6" r="6.9"/><circle cx="311.2" cy="946.8" r="5.5"/><circle cx="317.5" cy="942.8" r="5.5"/><circle cx="321.2" cy="936.7" r="6.7"/><circle cx="327.1" cy="932.9" r="6.6"/><circle cx="328.3" cy="925.7" r="6.5"/><circle cx="332.7" cy="920.7" r="5.9"/><circle cx="340.7" cy="923.3" r="6.4"/><circle cx="346" cy="919.5" r="6.4"/><circle cx="353" cy="919.1" r="6.3"/><circle cx="358.8" cy="913.3" r="5.7"/><circle cx="366.6" cy="912.9" r="6.1"/><circle cx="372.7" cy="916.2" r="6"/><circle cx="378.6" cy="919.8" r="6.6"/><circle cx="386.2" cy="922" r="7"/><circle cx="392.5" cy="925.5" r="6.9"/><circle cx="399.7" cy="928.8" r="6.3"/><circle cx="404.9" cy="933.3" r="6.1"/><circle cx="412.3" cy="934.6" r="5.8"/><circle cx="417.9" cy="940.2" r="5.5"/><circle cx="416.1" cy="947.6" r="5.4"/><circle cx="420.8" cy="952.5" r="6.1"/><circle cx="424.7" cy="958.4" r="5.9"/><circle cx="420.2" cy="964.1" r="6"/><circle cx="411.5" cy="966.8" r="6.8"/><circle cx="399.8" cy="969" r="6.2"/><circle cx="382.7" cy="966.9" r="6.3"/><circle cx="367.7" cy="966.6" r="5.8"/><circle cx="353.5" cy="964.7" r="5.4"/><circle cx="337.5" cy="966.8" r="5.9"/><circle cx="323.4" cy="966.9" r="5.6"/><circle cx="313.4" cy="963.8" r="6.2"/><circle cx="305.4" cy="959.8" r="7"/></g><ellipse cx="365" cy="944" rx="46" ry="20" fill="url(#so)"/><circle cx="334.8" cy="936.8" r="6" fill="url(#sh)" opacity="0.95"/><circle cx="362.7" cy="924.2" r="7" fill="url(#sh)" opacity="0.55"/><circle cx="376.2" cy="932.3" r="7" fill="url(#sh)" opacity="0.6"/><circle cx="403.2" cy="943.1" r="7" fill="url(#sh)" opacity="0.45"/><circle cx="388.8" cy="956.6" r="7" fill="url(#sh)" opacity="0.5"/><circle cx="351" cy="942.2" r="7" fill="url(#sh)" opacity="0.25"/><circle cx="322.2" cy="953" r="7" fill="url(#sh)" opacity="0.2"/></g>
<g id="plant3"><path class="pt2" stroke-width="1.7" d="M611.3 660.8C609.8 658 605.9 648.8 602.4 644C598.9 639.2 594.4 635.4 590.4 632C586.4 628.6 580.4 625 578.4 623.6"/><path class="pt2" stroke-width="1" d="M594 635.6C594.3 634.4 595.4 630.6 595.9 628.4C596.4 626.2 596.7 623.4 596.9 622.4"/><path class="pt2" stroke-width="1" d="M596.4 638C594.8 638 589.4 637.8 586.8 638C584.2 638.2 581.8 639 580.8 639.2"/><path class="pt2" stroke-width="1" d="M589.2 631.3C586.8 630.8 580 629 574.8 628.4C569.6 627.8 560.8 628 558 627.9"/><path class="pt2" stroke-width="1.6" d="M606.5 813.3C604.5 811.3 599.3 804.9 594.5 801.3C589.7 797.7 582.1 794.2 577.7 791.7C573.3 789.2 569.7 787.3 568.1 786.4"/><path class="pt2" stroke-width="1" d="M587.3 797.4C585.6 797.2 580.8 796.2 577.2 796C573.6 795.8 567.6 796.4 565.7 796.5"/><path class="pt2" stroke-width="1" d="M582 801.3C581.2 801.6 578.6 802.4 577.2 803.2C575.8 804 574.2 805.6 573.6 806.1"/><path class="pt2" stroke-width="1" d="M579.6 798.4C577.6 799.4 570.6 801.4 567.6 804.4C564.6 807.4 562.6 814.4 561.6 816.4"/><use href="#p3"/><circle cx="577.2" cy="620" r="6.1" fill="#f6ee5a" opacity=".55"/><path class="fl" d="M584.9 620L580.2 621.1L583.1 624.9L578.8 622.8L578.5 627.6L576.6 623.2L573.4 626.7L574.7 622.1L570 622.6L574 620L570 617.4L574.7 617.9L573.4 613.3L576.6 616.8L578.5 612.4L578.8 617.2L583.1 615.1L580.2 618.9Z"/><path d="M577.2 620L581.8 620" stroke="#b9a81c" stroke-width=".7" opacity=".7"/><path d="M577.2 620L578 624.5" stroke="#b9a81c" stroke-width=".7" opacity=".7"/><path d="M577.2 620L572.9 621.6" stroke="#b9a81c" stroke-width=".7" opacity=".7"/><path d="M577.2 620L574.9 616" stroke="#b9a81c" stroke-width=".7" opacity=".7"/><path d="M577.2 620L580.7 617" stroke="#b9a81c" stroke-width=".7" opacity=".7"/><circle cx="596.4" cy="621.2" r="5.8" fill="#f6ee5a" opacity=".55"/><path class="fl" d="M602.7 624.7L598.4 623.5L599 627.9L596.5 624.2L594.1 628L594.5 623.6L590.3 624.9L593.4 621.8L589.3 620.1L593.7 619.8L591.6 615.8L595.3 618.4L596.2 614L597.4 618.3L600.9 615.6L599 619.6L603.5 619.8L599.4 621.7Z"/><path d="M596.4 621.2L600.2 623.3" stroke="#b9a81c" stroke-width=".7" opacity=".7"/><path d="M596.4 621.2L595 625.3" stroke="#b9a81c" stroke-width=".7" opacity=".7"/><path d="M596.4 621.2L592.1 620.6" stroke="#b9a81c" stroke-width=".7" opacity=".7"/><path d="M596.4 621.2L596.3 616.9" stroke="#b9a81c" stroke-width=".7" opacity=".7"/><path d="M596.4 621.2L600.6 620.3" stroke="#b9a81c" stroke-width=".7" opacity=".7"/><circle cx="580.8" cy="639.2" r="6.1" fill="#f6ee5a" opacity=".55"/><path class="fl" d="M584.9 645.7L581.5 642.3L579.8 646.8L579.3 642.1L575.2 644.4L577.8 640.4L573.1 639.6L577.7 638.2L574.7 634.5L579.1 636.5L579.1 631.7L581.2 636L584.3 632.4L583.2 637L587.9 636.2L584 639L588.1 641.5L583.4 641.2Z"/><path d="M580.8 639.2L583.3 643.1" stroke="#b9a81c" stroke-width=".7" opacity=".7"/><path d="M580.8 639.2L577.4 642.3" stroke="#b9a81c" stroke-width=".7" opacity=".7"/><path d="M580.8 639.2L577.1 636.4" stroke="#b9a81c" stroke-width=".7" opacity=".7"/><path d="M580.8 639.2L582.9 635.1" stroke="#b9a81c" stroke-width=".7" opacity=".7"/><path d="M580.8 639.2L585.2 640.6" stroke="#b9a81c" stroke-width=".7" opacity=".7"/><circle cx="567.6" cy="643.3" r="5.8" fill="#f6ee5a" opacity=".55"/><path class="fl" d="M568.1 650.5L566.8 646.2L563.4 649.1L565.1 645L560.6 645L564.6 643L561.1 640.1L565.5 641.1L564.7 636.7L567.4 640.3L569.6 636.4L569.4 640.8L573.6 639.2L570.5 642.5L574.8 644L570.3 644.6L572.6 648.5L568.8 646Z"/><path d="M567.6 643.3L567.9 647.6" stroke="#b9a81c" stroke-width=".7" opacity=".7"/><path d="M567.6 643.3L563.4 644.3" stroke="#b9a81c" stroke-width=".7" opacity=".7"/><path d="M567.6 643.3L565.8 639.3" stroke="#b9a81c" stroke-width=".7" opacity=".7"/><path d="M567.6 643.3L571.2 640.9" stroke="#b9a81c" stroke-width=".7" opacity=".7"/><path d="M567.6 643.3L570.6 646.4" stroke="#b9a81c" stroke-width=".7" opacity=".7"/><circle cx="653" cy="656" r="6.3" fill="#f6ee5a" opacity=".55"/><path class="fl" d="M649.7 663.2L650.7 658.4L645.9 659.4L649.7 656.3L645.4 654L650.3 654.1L648.5 649.5L652.2 652.8L653.7 648.1L654.4 653L658.6 650.4L656 654.6L660.9 655.3L656.3 656.8L659.6 660.5L655 658.7L655.1 663.6L652.8 659.3Z"/><path d="M653 656L651.1 660.3" stroke="#b9a81c" stroke-width=".7" opacity=".7"/><path d="M653 656L648.4 654.8" stroke="#b9a81c" stroke-width=".7" opacity=".7"/><path d="M653 656L653.4 651.3" stroke="#b9a81c" stroke-width=".7" opacity=".7"/><path d="M653 656L657.8 655.6" stroke="#b9a81c" stroke-width=".7" opacity=".7"/><path d="M653 656L654.3 660.6" stroke="#b9a81c" stroke-width=".7" opacity=".7"/><circle cx="647.3" cy="671.6" r="6.1" fill="#f6ee5a" opacity=".55"/><path class="fl" d="M641.1 676.2L644.2 672.5L639.6 671.2L644.3 670.3L641.7 666.3L645.8 668.7L646.4 664L648 668.5L651.5 665.2L649.9 669.7L654.6 669.4L650.5 671.8L654.3 674.6L649.6 673.8L650.7 678.5L647.7 674.8L645.5 679.1L645.5 674.3Z"/><path d="M647.3 671.6L643.6 674.4" stroke="#b9a81c" stroke-width=".7" opacity=".7"/><path d="M647.3 671.6L643.9 668.4" stroke="#b9a81c" stroke-width=".7" opacity=".7"/><path d="M647.3 671.6L649.8 667.7" stroke="#b9a81c" stroke-width=".7" opacity=".7"/><path d="M647.3 671.6L651.5 673.4" stroke="#b9a81c" stroke-width=".7" opacity=".7"/><path d="M647.3 671.6L646.2 676.1" stroke="#b9a81c" stroke-width=".7" opacity=".7"/><circle cx="555.6" cy="796" r="6.5" fill="#f6ee5a" opacity=".55"/><path class="fl" d="M563.6 797.6L558.5 797.8L560.7 802.4L556.7 799.2L555.4 804.2L554.3 799.2L550.2 802.1L552.6 797.6L547.5 797.2L552.2 795.3L548.6 791.7L553.5 793.3L553 788.3L555.7 792.6L558.6 788.4L557.9 793.4L562.8 792.1L559 795.5Z"/><path d="M555.6 796L560.4 797" stroke="#b9a81c" stroke-width=".7" opacity=".7"/><path d="M555.6 796L555.5 800.9" stroke="#b9a81c" stroke-width=".7" opacity=".7"/><path d="M555.6 796L550.8 796.7" stroke="#b9a81c" stroke-width=".7" opacity=".7"/><path d="M555.6 796L554 791.4" stroke="#b9a81c" stroke-width=".7" opacity=".7"/><path d="M555.6 796L559.9 793.7" stroke="#b9a81c" stroke-width=".7" opacity=".7"/><circle cx="568.1" cy="784" r="5.8" fill="#f6ee5a" opacity=".55"/><path class="fl" d="M572.6 789.6L569 786.9L567.9 791.2L567 786.8L563.3 789.4L565.4 785.4L561 785.1L565.1 783.4L561.9 780.2L566.2 781.6L565.8 777.2L568.2 781L570.7 777.3L570.1 781.7L574.4 780.6L571.1 783.6L575.1 785.4L570.7 785.6Z"/><path d="M568.1 784L570.8 787.4" stroke="#b9a81c" stroke-width=".7" opacity=".7"/><path d="M568.1 784L565.2 787.2" stroke="#b9a81c" stroke-width=".7" opacity=".7"/><path d="M568.1 784L564.4 781.7" stroke="#b9a81c" stroke-width=".7" opacity=".7"/><path d="M568.1 784L569.7 780" stroke="#b9a81c" stroke-width=".7" opacity=".7"/><path d="M568.1 784L572.3 784.9" stroke="#b9a81c" stroke-width=".7" opacity=".7"/><circle cx="573.6" cy="806.8" r="5.8" fill="#f6ee5a" opacity=".55"/><path class="fl" d="M573.4 814L572.5 809.6L568.8 812.2L570.9 808.2L566.5 807.8L570.6 806.2L567.5 803L571.7 804.4L571.3 800L573.7 803.8L576.3 800.1L575.6 804.5L579.9 803.4L576.6 806.4L580.7 808.3L576.2 808.4L578.1 812.4L574.6 809.7Z"/><path d="M573.6 806.8L573.5 811.1" stroke="#b9a81c" stroke-width=".7" opacity=".7"/><path d="M573.6 806.8L569.3 807.4" stroke="#b9a81c" stroke-width=".7" opacity=".7"/><path d="M573.6 806.8L572.2 802.7" stroke="#b9a81c" stroke-width=".7" opacity=".7"/><path d="M573.6 806.8L577.4 804.8" stroke="#b9a81c" stroke-width=".7" opacity=".7"/><path d="M573.6 806.8L576.3 810.2" stroke="#b9a81c" stroke-width=".7" opacity=".7"/><g class="soil"><path d="M541.8 952.5L546.3 947.6L553.5 946.8L559.8 942.9L562.3 936.7L568.3 933L569.6 925.9L574.3 921.3L582 923.6L587.2 919.9L594.1 919.5L600 914.5L607.5 913.6L613.5 916.9L619.5 920L627.3 921.9L633.6 925.4L640.2 929L645.3 933.5L652.3 934.9L657.6 940.4L655.7 947.6L661.1 952.5L664.8 958.2L660.4 963.8L652.5 966.8L640.4 968.7L623.3 966.5L608.4 965.6L595.2 963.5L579.2 966.2L565.5 966.4L555 963.6L546.2 959.8Z"/><circle cx="540.8" cy="952.6" r="5.8"/><circle cx="545.8" cy="947.6" r="6.3"/><circle cx="552.7" cy="946.8" r="6"/><circle cx="559.3" cy="942.9" r="6.4"/><circle cx="561.9" cy="936.6" r="6.4"/><circle cx="567.1" cy="932.5" r="5.5"/><circle cx="568.4" cy="925.2" r="5.4"/><circle cx="574.3" cy="921.3" r="6.7"/><circle cx="581.3" cy="922.9" r="5.8"/><circle cx="586.7" cy="919" r="5.8"/><circle cx="594.2" cy="919.7" r="7"/><circle cx="599.9" cy="913.8" r="6.2"/><circle cx="607.5" cy="913.5" r="6.7"/><circle cx="613.7" cy="916.3" r="6.2"/><circle cx="619.6" cy="919.7" r="6.4"/><circle cx="628" cy="921" r="5.6"/><circle cx="633.9" cy="925.2" r="6.4"/><circle cx="640.3" cy="929" r="6.8"/><circle cx="645.8" cy="933.4" r="6.2"/><circle cx="652.5" cy="934.8" r="6.6"/><circle cx="657.9" cy="940.4" r="6.5"/><circle cx="657" cy="947.6" r="5.5"/><circle cx="661.3" cy="952.5" r="6.6"/><circle cx="665.2" cy="958.3" r="6.3"/><circle cx="661.3" cy="964.1" r="5.9"/><circle cx="653.8" cy="967.3" r="5.4"/><circle cx="640.4" cy="968.7" r="6.8"/><circle cx="623.8" cy="966.9" r="6.2"/><circle cx="608.5" cy="965.8" r="6.6"/><circle cx="595.2" cy="963.5" r="6.8"/><circle cx="579" cy="966.4" r="6.5"/><circle cx="565.5" cy="966.4" r="6.9"/><circle cx="554.3" cy="963.9" r="6"/><circle cx="546.1" cy="959.8" r="6.7"/></g><ellipse cx="606" cy="944" rx="46" ry="20" fill="url(#so)"/><circle cx="575.8" cy="936.8" r="6" fill="url(#sh)" opacity="0.95"/><circle cx="603.7" cy="924.2" r="7" fill="url(#sh)" opacity="0.55"/><circle cx="617.2" cy="932.3" r="7" fill="url(#sh)" opacity="0.6"/><circle cx="644.2" cy="943.1" r="7" fill="url(#sh)" opacity="0.45"/><circle cx="629.8" cy="956.6" r="7" fill="url(#sh)" opacity="0.5"/><circle cx="592" cy="942.2" r="7" fill="url(#sh)" opacity="0.25"/><circle cx="563.2" cy="953" r="7" fill="url(#sh)" opacity="0.2"/></g>
<g id="plant4"><g transform="matrix(1.0216 0 0 1.015 238.77 -12.7)"><path class="pt2" stroke-width="1.7" d="M611.3 660.8C609.8 658 605.9 648.8 602.4 644C598.9 639.2 594.4 635.4 590.4 632C586.4 628.6 580.4 625 578.4 623.6"/><path class="pt2" stroke-width="1" d="M594 635.6C594.3 634.4 595.4 630.6 595.9 628.4C596.4 626.2 596.7 623.4 596.9 622.4"/><path class="pt2" stroke-width="1" d="M596.4 638C594.8 638 589.4 637.8 586.8 638C584.2 638.2 581.8 639 580.8 639.2"/><path class="pt2" stroke-width="1" d="M589.2 631.3C586.8 630.8 580 629 574.8 628.4C569.6 627.8 560.8 628 558 627.9"/><path class="pt2" stroke-width="1.6" d="M606.5 813.3C604.5 811.3 599.3 804.9 594.5 801.3C589.7 797.7 582.1 794.2 577.7 791.7C573.3 789.2 569.7 787.3 568.1 786.4"/><path class="pt2" stroke-width="1" d="M587.3 797.4C585.6 797.2 580.8 796.2 577.2 796C573.6 795.8 567.6 796.4 565.7 796.5"/><path class="pt2" stroke-width="1" d="M582 801.3C581.2 801.6 578.6 802.4 577.2 803.2C575.8 804 574.2 805.6 573.6 806.1"/><path class="pt2" stroke-width="1" d="M579.6 798.4C577.6 799.4 570.6 801.4 567.6 804.4C564.6 807.4 562.6 814.4 561.6 816.4"/><use href="#p3"/></g><circle cx="809.2" cy="621.2" r="6.7" fill="url(#tom)"/><circle cx="822.9" cy="612.8" r="7.2" fill="url(#tom)"/><circle cx="851.9" cy="612.8" r="6.2" fill="url(#tom)"/><circle cx="820" cy="640.4" r="7.2" fill="url(#tom)"/><circle cx="829.8" cy="638" r="6.5" fill="url(#tom)"/><circle cx="898" cy="645.7" r="7.2" fill="url(#tom)"/><circle cx="911.9" cy="651.2" r="7.4" fill="url(#tom)"/><circle cx="892" cy="669.2" r="6.7" fill="url(#tom)"/><circle cx="904.7" cy="671.1" r="7.2" fill="url(#tom)"/><circle cx="814" cy="785.2" r="7.2" fill="url(#tom)"/><circle cx="803.7" cy="798.4" r="7.4" fill="url(#tom)"/><circle cx="822.4" cy="809.2" r="7.2" fill="url(#tom)"/><circle cx="810.4" cy="814.7" r="7.2" fill="url(#tom)"/><g class="soil"><path d="M794.8 952.5L799.3 947.6L806.5 946.8L812.8 942.9L815.3 936.7L821.3 933L822.6 925.9L827.3 921.3L835 923.6L840.2 919.9L847.1 919.5L853 914.5L860.5 913.6L866.5 916.9L872.5 920L880.3 921.9L886.6 925.4L893.2 929L898.3 933.5L905.3 934.9L910.6 940.4L908.7 947.6L914.1 952.5L917.8 958.2L913.4 963.8L905.5 966.8L893.4 968.7L876.3 966.5L861.4 965.6L848.2 963.5L832.2 966.2L818.5 966.4L808 963.6L799.2 959.8Z"/><circle cx="793.8" cy="952.6" r="5.8"/><circle cx="798.1" cy="947.6" r="5.6"/><circle cx="805.7" cy="946.8" r="6"/><circle cx="811.6" cy="942.8" r="5.6"/><circle cx="814" cy="936.4" r="5.5"/><circle cx="820.6" cy="932.7" r="6"/><circle cx="822.6" cy="925.9" r="6.9"/><circle cx="827.2" cy="921.3" r="6.7"/><circle cx="834.8" cy="923.5" r="6.6"/><circle cx="839.7" cy="919" r="5.8"/><circle cx="847" cy="919" r="6.3"/><circle cx="852.9" cy="913.5" r="5.8"/><circle cx="860.7" cy="912.4" r="5.7"/><circle cx="866.9" cy="915.7" r="5.6"/><circle cx="873" cy="919.1" r="5.7"/><circle cx="880.2" cy="921.9" r="6.9"/><circle cx="886.7" cy="925.4" r="6.7"/><circle cx="893.3" cy="929" r="6.7"/><circle cx="898.4" cy="933.5" r="6.7"/><circle cx="906.4" cy="934.6" r="5.7"/><circle cx="911.5" cy="940.3" r="5.9"/><circle cx="909.1" cy="947.6" r="6.4"/><circle cx="914.3" cy="952.5" r="6.6"/><circle cx="917.8" cy="958.2" r="6.8"/><circle cx="913.4" cy="963.8" r="6.8"/><circle cx="906.7" cy="967.3" r="5.5"/><circle cx="893.7" cy="968.9" r="6.4"/><circle cx="876.5" cy="966.7" r="6.5"/><circle cx="861.6" cy="966.2" r="6.2"/><circle cx="847.7" cy="964.5" r="5.7"/><circle cx="831.7" cy="966.6" r="6.2"/><circle cx="817.3" cy="966.9" r="5.5"/><circle cx="808.1" cy="963.6" r="6.9"/><circle cx="799.2" cy="959.8" r="6.8"/></g><ellipse cx="859" cy="944" rx="46" ry="20" fill="url(#so)"/><circle cx="828.8" cy="936.8" r="6" fill="url(#sh)" opacity="0.95"/><circle cx="856.7" cy="924.2" r="7" fill="url(#sh)" opacity="0.55"/><circle cx="870.2" cy="932.3" r="7" fill="url(#sh)" opacity="0.6"/><circle cx="897.2" cy="943.1" r="7" fill="url(#sh)" opacity="0.45"/><circle cx="882.8" cy="956.6" r="7" fill="url(#sh)" opacity="0.5"/><circle cx="845" cy="942.2" r="7" fill="url(#sh)" opacity="0.25"/><circle cx="816.2" cy="953" r="7" fill="url(#sh)" opacity="0.2"/></g>

</svg>
<h1><span>F</span>ull Spectrum</h1>

<div class="panel" style="left:0">
  <div class="badge" style="left:33px;border-color:#5656c0"><b style="background:#0a0af0">Blue</b><i style="letter-spacing:-.55px;text-indent:-5px">15.31%</i></div>
  <p class="rng" style="left:33px">400-499nm</p>
  <p class="desc" style="left:33px">Blue-rays help promote<br>photosynthesis.</p>
</div>
<div class="panel" style="left:250px">
  <div class="badge" style="left:27px;border-color:#46a652"><b style="background:#17ab27">Green</b><i style="letter-spacing:.7px;text-indent:2px">33.94%</i></div>
  <p class="rng" style="left:27px">500-599nm</p>
  <p class="desc" style="left:27px">Green rays are meaning-<br>ful for plant morphology.</p>
</div>
<div class="panel" style="left:500px">
  <div class="badge" style="left:20.5px;border-color:#cc5a44"><b style="background:#e8340a">Red</b><i style="letter-spacing:.1px">42.12%</i></div>
  <p class="rng" style="left:21px">600-699nm</p>
  <p class="desc" style="left:21px;letter-spacing:.62px">Red rays are the most<br>helpful for growth,<br>bloom, and fruiting.</p>
</div>
<div class="panel" style="left:750px">
  <div class="badge" style="left:23px;border-color:#cc4c4c"><b style="background:#e60b0b">FR</b><i style="letter-spacing:.55px;text-indent:-5px">8.63%</i></div>
  <p class="rng" style="left:23.5px">700-780nm</p>
  <p class="desc" style="left:23.5px;letter-spacing:.56px">FR helps regulate physi-<br>ological activities such<br>as shading and flower-<br>ing.</p>
</div>

<p class="stage" style="left:121.5px">Geminating</p>
<p class="stage" style="left:373px">Growing</p>
<p class="stage" style="left:623.5px">Blooming</p>
<p class="stage" style="left:870px">Fruiting</p>
</body>
</html>
